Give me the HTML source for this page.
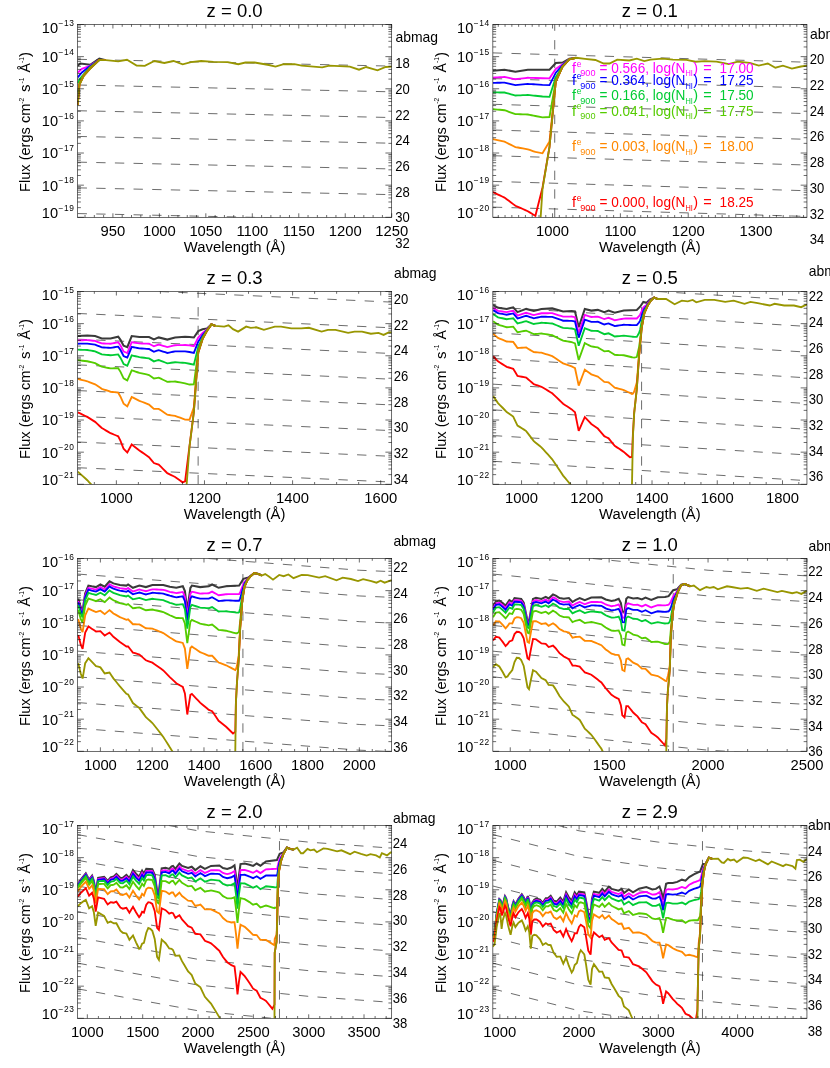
<!DOCTYPE html>
<html><head><meta charset="utf-8"><title>LyC flux vs redshift</title>
<style>html,body{margin:0;padding:0;background:#fff}svg{display:block;will-change:transform}text{font-family:"Liberation Sans",sans-serif;fill:#000}</style></head><body>
<svg width="830" height="1068" viewBox="0 0 830 1068">
<rect x="0" y="0" width="830" height="1068" fill="#ffffff"/>
<g id="p0">
<clipPath id="c0"><rect x="77.6" y="24.5" width="314.1" height="192.8"/></clipPath>
<g clip-path="url(#c0)" fill="none" stroke="#111111" stroke-width="0.62" stroke-dasharray="9.35 9.3">
<path d="M77.6 59.31 L391.7 66.11"/>
<path d="M77.6 85.01 L391.7 91.82"/>
<path d="M77.6 110.72 L391.7 117.53"/>
<path d="M77.6 136.43 L391.7 143.23"/>
<path d="M77.6 162.13 L391.7 168.94"/>
<path d="M77.6 187.84 L391.7 194.65"/>
<path d="M77.6 213.55 L391.7 220.35"/>
</g>
<g clip-path="url(#c0)" fill="none" stroke-width="1.85" stroke-linejoin="miter" stroke-miterlimit="3">
<path d="M77.7 65.8 L80.4 63.5 L90.1 64.7 L99.3 58.6 L105.9 60.2" stroke="#3a3a3a"/>
<path d="M77.7 72.8 L81.9 68.9 L89.2 66.1 L99.3 59.9 L105.9 60.2" stroke="#ff00ff"/>
<path d="M77.7 77.4 L81.9 72.5 L89.2 66.7 L99.3 59.9 L105.9 60.2" stroke="#0000ff"/>
<path d="M77.7 83.2 L80.1 78.6 L83.7 74.3 L89.8 67.3 L99.3 59.9 L105.9 60.2" stroke="#00cc33"/>
<path d="M77.7 92.6 L79.5 82.9 L83.7 75.3 L89.9 68 L99.3 59.9 L105.9 60.2" stroke="#55cc00"/>
<path d="M77.7 104.8 L79.5 84.1 L83.7 75.6 L90.1 68.3 L99.3 59.9 L105.9 60.2" stroke="#ff8800"/>
<path d="M77.7 105 L79.5 84.3 L83.7 75.8 L90.2 68.5 L99.3 59.9 L105.9 60.2" stroke="#ff0000"/>
<path d="M77.7 105.4 L79.5 84.5 L83.7 76 L90.3 68.7 L99.3 60 L105.9 60.2 L118.2 61.4 L127 59.8 L136.6 65.5 L144.8 65.9 L154.4 61 L164.3 63 L173.5 61 L182.7 64.3 L190.9 62.2 L201.1 61 L213.4 61.8 L227.8 62.2 L238.2 64.2 L245.4 62.5 L254.6 62.5 L268.9 65 L275.5 66.6 L283.7 64.2 L294.5 64.2 L301.7 65.6 L322.2 67.4 L329.3 65.6 L349.8 66.6 L359 69.7 L366.2 67 L377.5 70.3 L385.7 67 L391.8 66.6" stroke="#989600"/>
</g>
<g fill="none" stroke="#111111" stroke-width="0.62" stroke-linecap="butt">
<rect x="77.6" y="24.5" width="314.1" height="192.8"/>
<path d="M85.03 217.3 v-2.3 M85.03 24.5 v2.3 M94.33 217.3 v-2.3 M94.33 24.5 v2.3 M103.62 217.3 v-2.3 M103.62 24.5 v2.3 M112.91 217.3 v-4 M112.91 24.5 v4 M122.21 217.3 v-2.3 M122.21 24.5 v2.3 M131.5 217.3 v-2.3 M131.5 24.5 v2.3 M140.79 217.3 v-2.3 M140.79 24.5 v2.3 M150.08 217.3 v-2.3 M150.08 24.5 v2.3 M159.38 217.3 v-4 M159.38 24.5 v4 M168.67 217.3 v-2.3 M168.67 24.5 v2.3 M177.96 217.3 v-2.3 M177.96 24.5 v2.3 M187.26 217.3 v-2.3 M187.26 24.5 v2.3 M196.55 217.3 v-2.3 M196.55 24.5 v2.3 M205.84 217.3 v-4 M205.84 24.5 v4 M215.13 217.3 v-2.3 M215.13 24.5 v2.3 M224.43 217.3 v-2.3 M224.43 24.5 v2.3 M233.72 217.3 v-2.3 M233.72 24.5 v2.3 M243.01 217.3 v-2.3 M243.01 24.5 v2.3 M252.31 217.3 v-4 M252.31 24.5 v4 M261.6 217.3 v-2.3 M261.6 24.5 v2.3 M270.89 217.3 v-2.3 M270.89 24.5 v2.3 M280.19 217.3 v-2.3 M280.19 24.5 v2.3 M289.48 217.3 v-2.3 M289.48 24.5 v2.3 M298.77 217.3 v-4 M298.77 24.5 v4 M308.06 217.3 v-2.3 M308.06 24.5 v2.3 M317.36 217.3 v-2.3 M317.36 24.5 v2.3 M326.65 217.3 v-2.3 M326.65 24.5 v2.3 M335.94 217.3 v-2.3 M335.94 24.5 v2.3 M345.24 217.3 v-4 M345.24 24.5 v4 M354.53 217.3 v-2.3 M354.53 24.5 v2.3 M363.82 217.3 v-2.3 M363.82 24.5 v2.3 M373.11 217.3 v-2.3 M373.11 24.5 v2.3 M382.41 217.3 v-2.3 M382.41 24.5 v2.3 M391.7 217.3 v-4 M391.7 24.5 v4 M77.6 24.5 h6.3 M391.7 24.5 h-6.3 M77.6 46.96 h3.3 M391.7 46.96 h-3.3 M77.6 41.3 h3.3 M391.7 41.3 h-3.3 M77.6 37.29 h3.3 M391.7 37.29 h-3.3 M77.6 34.17 h3.3 M391.7 34.17 h-3.3 M77.6 31.63 h3.3 M391.7 31.63 h-3.3 M77.6 29.48 h3.3 M391.7 29.48 h-3.3 M77.6 27.61 h3.3 M391.7 27.61 h-3.3 M77.6 25.97 h3.3 M391.7 25.97 h-3.3 M77.6 56.63 h6.3 M391.7 56.63 h-6.3 M77.6 79.09 h3.3 M391.7 79.09 h-3.3 M77.6 73.44 h3.3 M391.7 73.44 h-3.3 M77.6 69.42 h3.3 M391.7 69.42 h-3.3 M77.6 66.31 h3.3 M391.7 66.31 h-3.3 M77.6 63.76 h3.3 M391.7 63.76 h-3.3 M77.6 61.61 h3.3 M391.7 61.61 h-3.3 M77.6 59.75 h3.3 M391.7 59.75 h-3.3 M77.6 58.1 h3.3 M391.7 58.1 h-3.3 M77.6 88.77 h6.3 M391.7 88.77 h-6.3 M77.6 111.23 h3.3 M391.7 111.23 h-3.3 M77.6 105.57 h3.3 M391.7 105.57 h-3.3 M77.6 101.55 h3.3 M391.7 101.55 h-3.3 M77.6 98.44 h3.3 M391.7 98.44 h-3.3 M77.6 95.9 h3.3 M391.7 95.9 h-3.3 M77.6 93.74 h3.3 M391.7 93.74 h-3.3 M77.6 91.88 h3.3 M391.7 91.88 h-3.3 M77.6 90.24 h3.3 M391.7 90.24 h-3.3 M77.6 120.9 h6.3 M391.7 120.9 h-6.3 M77.6 143.36 h3.3 M391.7 143.36 h-3.3 M77.6 137.7 h3.3 M391.7 137.7 h-3.3 M77.6 133.69 h3.3 M391.7 133.69 h-3.3 M77.6 130.57 h3.3 M391.7 130.57 h-3.3 M77.6 128.03 h3.3 M391.7 128.03 h-3.3 M77.6 125.88 h3.3 M391.7 125.88 h-3.3 M77.6 124.01 h3.3 M391.7 124.01 h-3.3 M77.6 122.37 h3.3 M391.7 122.37 h-3.3 M77.6 153.03 h6.3 M391.7 153.03 h-6.3 M77.6 175.49 h3.3 M391.7 175.49 h-3.3 M77.6 169.84 h3.3 M391.7 169.84 h-3.3 M77.6 165.82 h3.3 M391.7 165.82 h-3.3 M77.6 162.71 h3.3 M391.7 162.71 h-3.3 M77.6 160.16 h3.3 M391.7 160.16 h-3.3 M77.6 158.01 h3.3 M391.7 158.01 h-3.3 M77.6 156.15 h3.3 M391.7 156.15 h-3.3 M77.6 154.5 h3.3 M391.7 154.5 h-3.3 M77.6 185.17 h6.3 M391.7 185.17 h-6.3 M77.6 207.63 h3.3 M391.7 207.63 h-3.3 M77.6 201.97 h3.3 M391.7 201.97 h-3.3 M77.6 197.95 h3.3 M391.7 197.95 h-3.3 M77.6 194.84 h3.3 M391.7 194.84 h-3.3 M77.6 192.3 h3.3 M391.7 192.3 h-3.3 M77.6 190.14 h3.3 M391.7 190.14 h-3.3 M77.6 188.28 h3.3 M391.7 188.28 h-3.3 M77.6 186.64 h3.3 M391.7 186.64 h-3.3 M77.6 217.3 h6.3 M391.7 217.3 h-6.3"/>
</g>
<text x="234.65" y="17.3" font-size="18.5" text-anchor="middle">z = 0.0</text>
<text x="112.91" y="236.2" font-size="14.8" text-anchor="middle">950</text>
<text x="159.38" y="236.2" font-size="14.8" text-anchor="middle">1000</text>
<text x="205.84" y="236.2" font-size="14.8" text-anchor="middle">1050</text>
<text x="252.31" y="236.2" font-size="14.8" text-anchor="middle">1100</text>
<text x="298.77" y="236.2" font-size="14.8" text-anchor="middle">1150</text>
<text x="345.24" y="236.2" font-size="14.8" text-anchor="middle">1200</text>
<text x="391.7" y="236.2" font-size="14.8" text-anchor="middle">1250</text>
<text x="234.65" y="251.6" font-size="14.7" text-anchor="middle" textLength="101.6" lengthAdjust="spacingAndGlyphs">Wavelength (Å)</text>
<g transform="translate(30.4 191.9) rotate(-90)" font-size="15">
<text x="0" y="0" textLength="88.2" lengthAdjust="spacingAndGlyphs">Flux (ergs cm</text>
<text x="88.2" y="-6.3" font-size="6.6">-2</text>
<text x="99.9" y="0">s</text>
<text x="108.4" y="-6.3" font-size="6.6">-1</text>
<text x="119.3" y="0" textLength="9.4" lengthAdjust="spacingAndGlyphs">Å</text>
<text x="129.0" y="-6.3" font-size="6.6">-1</text>
<text x="134.9" y="0">)</text>
</g>
<text x="58" y="33.3" font-size="14.6" text-anchor="end">10</text>
<text x="58.6" y="26.1" font-size="8.4" textLength="15.2" lengthAdjust="spacing">−13</text>
<text x="58" y="62.03" font-size="14.6" text-anchor="end">10</text>
<text x="58.6" y="54.83" font-size="8.4" textLength="15.2" lengthAdjust="spacing">−14</text>
<text x="58" y="94.17" font-size="14.6" text-anchor="end">10</text>
<text x="58.6" y="86.97" font-size="8.4" textLength="15.2" lengthAdjust="spacing">−15</text>
<text x="58" y="126.3" font-size="14.6" text-anchor="end">10</text>
<text x="58.6" y="119.1" font-size="8.4" textLength="15.2" lengthAdjust="spacing">−16</text>
<text x="58" y="158.43" font-size="14.6" text-anchor="end">10</text>
<text x="58.6" y="151.23" font-size="8.4" textLength="15.2" lengthAdjust="spacing">−17</text>
<text x="58" y="190.57" font-size="14.6" text-anchor="end">10</text>
<text x="58.6" y="183.37" font-size="8.4" textLength="15.2" lengthAdjust="spacing">−18</text>
<text x="58" y="217.7" font-size="14.6" text-anchor="end">10</text>
<text x="58.6" y="210.5" font-size="8.4" textLength="15.2" lengthAdjust="spacing">−19</text>
<text x="395.52" y="42.4" font-size="15" textLength="42.6" lengthAdjust="spacingAndGlyphs">abmag</text>
<text x="395.32" y="68.1" font-size="14.2" textLength="14.5" lengthAdjust="spacingAndGlyphs">18</text>
<text x="395.32" y="93.81" font-size="14.2" textLength="14.5" lengthAdjust="spacingAndGlyphs">20</text>
<text x="395.32" y="119.52" font-size="14.2" textLength="14.5" lengthAdjust="spacingAndGlyphs">22</text>
<text x="395.32" y="145.22" font-size="14.2" textLength="14.5" lengthAdjust="spacingAndGlyphs">24</text>
<text x="395.32" y="170.93" font-size="14.2" textLength="14.5" lengthAdjust="spacingAndGlyphs">26</text>
<text x="395.32" y="196.64" font-size="14.2" textLength="14.5" lengthAdjust="spacingAndGlyphs">28</text>
<text x="395.32" y="222.34" font-size="14.2" textLength="14.5" lengthAdjust="spacingAndGlyphs">30</text>
<text x="395.32" y="248.05" font-size="14.2" textLength="14.5" lengthAdjust="spacingAndGlyphs">32</text>
</g>
<g id="p1">
<clipPath id="c1"><rect x="492.85" y="24.5" width="314.1" height="192.8"/></clipPath>
<g clip-path="url(#c1)" fill="none" stroke="#111111" stroke-width="0.62" stroke-dasharray="9.35 9.3">
<path d="M492.85 52.88 L806.95 62.21"/>
<path d="M492.85 78.59 L806.95 87.91"/>
<path d="M492.85 104.29 L806.95 113.62"/>
<path d="M492.85 130 L806.95 139.33"/>
<path d="M492.85 155.71 L806.95 165.03"/>
<path d="M492.85 181.41 L806.95 190.74"/>
<path d="M492.85 207.12 L806.95 216.45"/>
<path d="M554.72 217.3 L554.72 4.5"/>
</g>
<g clip-path="url(#c1)" fill="none" stroke-width="1.85" stroke-linejoin="miter" stroke-miterlimit="3">
<path d="M492.85 70.8 L504.5 69.8 L515.4 71.7 L527.8 69.8 L535.4 69.8 L542.5 69.8 L549.5 69.7 L555.8 63.1 L562.6 62.6 L569.3 58.8 L576.2 57.8" stroke="#3a3a3a" stroke-width="2.05"/>
<path d="M492.85 77.62 L495.18 77.49 L497.51 77.37 L499.84 77.24 L502.17 77.11 L504.5 76.99 L506.68 77.44 L508.86 77.89 L511.04 78.34 L513.22 78.79 L515.4 79.24 L517.88 78.94 L520.36 78.64 L522.84 78.35 L525.32 78.05 L527.8 77.75 L529.7 77.82 L531.6 77.88 L533.5 77.95 L535.4 78.01 L542.5 78.26 L549.5 78.36 L555.8 69.01 L562.6 64.38 L569.3 59.03 L576.2 57.8" stroke="#ff00ff"/>
<path d="M492.85 82.93 L495.18 82.86 L497.51 82.79 L499.84 82.72 L502.17 82.65 L504.5 82.58 L506.68 83.08 L508.86 83.59 L511.04 84.09 L513.22 84.6 L515.4 85.11 L517.88 84.87 L520.36 84.64 L522.84 84.4 L525.32 84.17 L527.8 83.94 L529.7 84.06 L531.6 84.17 L533.5 84.29 L535.4 84.41 L542.5 84.84 L549.5 85.08 L555.8 72.68 L562.6 65.24 L569.3 59.14 L576.2 57.8" stroke="#0000ff"/>
<path d="M492.85 92.38 L495.18 92.4 L497.51 92.43 L499.84 92.46 L502.17 92.49 L504.5 92.53 L506.68 93.13 L508.86 93.73 L511.04 94.33 L513.22 94.94 L515.4 95.54 L517.88 95.42 L520.36 95.3 L522.84 95.18 L525.32 95.06 L527.8 94.95 L529.7 95.15 L531.6 95.36 L533.5 95.57 L535.4 95.77 L542.5 96.54 L549.5 96.91 L555.8 77.16 L562.6 66.08 L569.3 59.23 L576.2 57.8" stroke="#00cc33"/>
<path d="M492.85 109.17 L495.18 109.37 L497.51 109.58 L499.84 109.79 L502.17 110 L504.5 110.22 L506.68 110.99 L508.86 111.76 L511.04 112.54 L513.22 113.31 L515.4 114.1 L517.88 114.17 L520.36 114.26 L522.84 114.34 L525.32 114.43 L527.8 114.52 L529.7 114.88 L531.6 115.25 L533.5 115.62 L535.4 115.99 L542.5 117.3 L549.5 117.01 L555.8 80.48 L562.6 66.57 L569.3 59.29 L576.2 57.8" stroke="#55cc00"/>
<path d="M492.85 139.03 L495.18 139.55 L497.51 140.07 L499.84 140.6 L502.17 141.13 L504.5 141.67 L506.68 142.75 L508.86 143.83 L511.04 144.91 L513.22 146 L515.4 147.09 L517.88 147.53 L520.36 147.97 L522.84 148.42 L525.32 148.87 L527.8 149.33 L529.7 149.97 L531.6 150.62 L533.5 151.28 L535.4 151.93 L542.5 153.31 L549.5 141.41 L555.8 81.44 L562.6 66.69 L569.3 59.3 L576.2 57.8" stroke="#ff8800"/>
<path d="M492.85 192.13 L495.18 193.21 L497.51 194.29 L499.84 195.39 L502.17 196.49 L504.5 197.61 L506.68 199.22 L508.86 200.85 L511.04 202.48 L513.22 204.12 L515.4 205.77 L517.88 206.84 L520.36 207.92 L522.84 209.01 L525.32 210.11 L527.8 211.22 L529.7 212.37 L531.6 213.53 L533.5 214.69 L535.4 215.82 L542.5 187.77 L549.5 146.95 L555.8 81.5 L562.6 66.7 L569.3 59.3 L576.2 57.8" stroke="#ff0000"/>
<path d="M492.85 286.55 L495.18 288.63 L497.51 290.72 L499.84 292.82 L502.17 294.94 L504.5 297.07 L506.68 299.65 L508.86 302.25 L511.04 304.85 L513.22 307.47 L515.4 310.11 L517.88 312.31 L520.36 314.52 L522.84 316.76 L525.32 319.01 L527.8 321.29 L529.7 323.33 L531.6 325.39 L533.5 327.45 L535.4 297.52 L542.5 189.2 L549.5 147 L555.8 81.5 L562.6 66.7 L569.3 59.3 L576.2 57.8 L585 58.9 L595.4 60 L603.7 63.5 L609.5 63.5 L617.2 59.6 L629.3 60.5 L636.8 58.7 L644.3 61.1 L650.4 59.6 L662.4 58.7 L673 59.6 L686.5 59.9 L695.5 61.7 L704.6 61.1 L716.6 61.7 L728.7 64.1 L737.7 61.7 L749.8 62.9 L758.8 65.6 L767.8 63.5 L775.4 67.7 L782.9 65.6 L791.9 68.6 L801 66.5 L807 65.6" stroke="#989600"/>
</g>
<g fill="none" stroke="#111111" stroke-width="0.62" stroke-linecap="butt">
<rect x="492.85" y="24.5" width="314.1" height="192.8"/>
<path d="M498.28 217.3 v-2.3 M498.28 24.5 v2.3 M505.06 217.3 v-2.3 M505.06 24.5 v2.3 M511.85 217.3 v-2.3 M511.85 24.5 v2.3 M518.63 217.3 v-2.3 M518.63 24.5 v2.3 M525.41 217.3 v-2.3 M525.41 24.5 v2.3 M532.2 217.3 v-2.3 M532.2 24.5 v2.3 M538.98 217.3 v-2.3 M538.98 24.5 v2.3 M545.77 217.3 v-2.3 M545.77 24.5 v2.3 M552.55 217.3 v-4 M552.55 24.5 v4 M559.33 217.3 v-2.3 M559.33 24.5 v2.3 M566.12 217.3 v-2.3 M566.12 24.5 v2.3 M572.9 217.3 v-2.3 M572.9 24.5 v2.3 M579.69 217.3 v-2.3 M579.69 24.5 v2.3 M586.47 217.3 v-2.3 M586.47 24.5 v2.3 M593.25 217.3 v-2.3 M593.25 24.5 v2.3 M600.04 217.3 v-2.3 M600.04 24.5 v2.3 M606.82 217.3 v-2.3 M606.82 24.5 v2.3 M613.61 217.3 v-2.3 M613.61 24.5 v2.3 M620.39 217.3 v-4 M620.39 24.5 v4 M627.17 217.3 v-2.3 M627.17 24.5 v2.3 M633.96 217.3 v-2.3 M633.96 24.5 v2.3 M640.74 217.3 v-2.3 M640.74 24.5 v2.3 M647.53 217.3 v-2.3 M647.53 24.5 v2.3 M654.31 217.3 v-2.3 M654.31 24.5 v2.3 M661.09 217.3 v-2.3 M661.09 24.5 v2.3 M667.88 217.3 v-2.3 M667.88 24.5 v2.3 M674.66 217.3 v-2.3 M674.66 24.5 v2.3 M681.45 217.3 v-2.3 M681.45 24.5 v2.3 M688.23 217.3 v-4 M688.23 24.5 v4 M695.01 217.3 v-2.3 M695.01 24.5 v2.3 M701.8 217.3 v-2.3 M701.8 24.5 v2.3 M708.58 217.3 v-2.3 M708.58 24.5 v2.3 M715.37 217.3 v-2.3 M715.37 24.5 v2.3 M722.15 217.3 v-2.3 M722.15 24.5 v2.3 M728.93 217.3 v-2.3 M728.93 24.5 v2.3 M735.72 217.3 v-2.3 M735.72 24.5 v2.3 M742.5 217.3 v-2.3 M742.5 24.5 v2.3 M749.29 217.3 v-2.3 M749.29 24.5 v2.3 M756.07 217.3 v-4 M756.07 24.5 v4 M762.85 217.3 v-2.3 M762.85 24.5 v2.3 M769.64 217.3 v-2.3 M769.64 24.5 v2.3 M776.42 217.3 v-2.3 M776.42 24.5 v2.3 M783.21 217.3 v-2.3 M783.21 24.5 v2.3 M789.99 217.3 v-2.3 M789.99 24.5 v2.3 M796.77 217.3 v-2.3 M796.77 24.5 v2.3 M803.56 217.3 v-2.3 M803.56 24.5 v2.3 M492.85 24.5 h6.3 M806.95 24.5 h-6.3 M492.85 46.96 h3.3 M806.95 46.96 h-3.3 M492.85 41.3 h3.3 M806.95 41.3 h-3.3 M492.85 37.29 h3.3 M806.95 37.29 h-3.3 M492.85 34.17 h3.3 M806.95 34.17 h-3.3 M492.85 31.63 h3.3 M806.95 31.63 h-3.3 M492.85 29.48 h3.3 M806.95 29.48 h-3.3 M492.85 27.61 h3.3 M806.95 27.61 h-3.3 M492.85 25.97 h3.3 M806.95 25.97 h-3.3 M492.85 56.63 h6.3 M806.95 56.63 h-6.3 M492.85 79.09 h3.3 M806.95 79.09 h-3.3 M492.85 73.44 h3.3 M806.95 73.44 h-3.3 M492.85 69.42 h3.3 M806.95 69.42 h-3.3 M492.85 66.31 h3.3 M806.95 66.31 h-3.3 M492.85 63.76 h3.3 M806.95 63.76 h-3.3 M492.85 61.61 h3.3 M806.95 61.61 h-3.3 M492.85 59.75 h3.3 M806.95 59.75 h-3.3 M492.85 58.1 h3.3 M806.95 58.1 h-3.3 M492.85 88.77 h6.3 M806.95 88.77 h-6.3 M492.85 111.23 h3.3 M806.95 111.23 h-3.3 M492.85 105.57 h3.3 M806.95 105.57 h-3.3 M492.85 101.55 h3.3 M806.95 101.55 h-3.3 M492.85 98.44 h3.3 M806.95 98.44 h-3.3 M492.85 95.9 h3.3 M806.95 95.9 h-3.3 M492.85 93.74 h3.3 M806.95 93.74 h-3.3 M492.85 91.88 h3.3 M806.95 91.88 h-3.3 M492.85 90.24 h3.3 M806.95 90.24 h-3.3 M492.85 120.9 h6.3 M806.95 120.9 h-6.3 M492.85 143.36 h3.3 M806.95 143.36 h-3.3 M492.85 137.7 h3.3 M806.95 137.7 h-3.3 M492.85 133.69 h3.3 M806.95 133.69 h-3.3 M492.85 130.57 h3.3 M806.95 130.57 h-3.3 M492.85 128.03 h3.3 M806.95 128.03 h-3.3 M492.85 125.88 h3.3 M806.95 125.88 h-3.3 M492.85 124.01 h3.3 M806.95 124.01 h-3.3 M492.85 122.37 h3.3 M806.95 122.37 h-3.3 M492.85 153.03 h6.3 M806.95 153.03 h-6.3 M492.85 175.49 h3.3 M806.95 175.49 h-3.3 M492.85 169.84 h3.3 M806.95 169.84 h-3.3 M492.85 165.82 h3.3 M806.95 165.82 h-3.3 M492.85 162.71 h3.3 M806.95 162.71 h-3.3 M492.85 160.16 h3.3 M806.95 160.16 h-3.3 M492.85 158.01 h3.3 M806.95 158.01 h-3.3 M492.85 156.15 h3.3 M806.95 156.15 h-3.3 M492.85 154.5 h3.3 M806.95 154.5 h-3.3 M492.85 185.17 h6.3 M806.95 185.17 h-6.3 M492.85 207.63 h3.3 M806.95 207.63 h-3.3 M492.85 201.97 h3.3 M806.95 201.97 h-3.3 M492.85 197.95 h3.3 M806.95 197.95 h-3.3 M492.85 194.84 h3.3 M806.95 194.84 h-3.3 M492.85 192.3 h3.3 M806.95 192.3 h-3.3 M492.85 190.14 h3.3 M806.95 190.14 h-3.3 M492.85 188.28 h3.3 M806.95 188.28 h-3.3 M492.85 186.64 h3.3 M806.95 186.64 h-3.3 M492.85 217.3 h6.3 M806.95 217.3 h-6.3"/>
</g>
<text x="649.9" y="17.3" font-size="18.5" text-anchor="middle">z = 0.1</text>
<text x="552.55" y="236.2" font-size="14.8" text-anchor="middle">1000</text>
<text x="620.39" y="236.2" font-size="14.8" text-anchor="middle">1100</text>
<text x="688.23" y="236.2" font-size="14.8" text-anchor="middle">1200</text>
<text x="756.07" y="236.2" font-size="14.8" text-anchor="middle">1300</text>
<text x="649.9" y="251.6" font-size="14.7" text-anchor="middle" textLength="101.6" lengthAdjust="spacingAndGlyphs">Wavelength (Å)</text>
<g transform="translate(445.65 191.9) rotate(-90)" font-size="15">
<text x="0" y="0" textLength="88.2" lengthAdjust="spacingAndGlyphs">Flux (ergs cm</text>
<text x="88.2" y="-6.3" font-size="6.6">-2</text>
<text x="99.9" y="0">s</text>
<text x="108.4" y="-6.3" font-size="6.6">-1</text>
<text x="119.3" y="0" textLength="9.4" lengthAdjust="spacingAndGlyphs">Å</text>
<text x="129.0" y="-6.3" font-size="6.6">-1</text>
<text x="134.9" y="0">)</text>
</g>
<text x="473.25" y="33.3" font-size="14.6" text-anchor="end">10</text>
<text x="473.85" y="26.1" font-size="8.4" textLength="15.2" lengthAdjust="spacing">−14</text>
<text x="473.25" y="62.03" font-size="14.6" text-anchor="end">10</text>
<text x="473.85" y="54.83" font-size="8.4" textLength="15.2" lengthAdjust="spacing">−15</text>
<text x="473.25" y="94.17" font-size="14.6" text-anchor="end">10</text>
<text x="473.85" y="86.97" font-size="8.4" textLength="15.2" lengthAdjust="spacing">−16</text>
<text x="473.25" y="126.3" font-size="14.6" text-anchor="end">10</text>
<text x="473.85" y="119.1" font-size="8.4" textLength="15.2" lengthAdjust="spacing">−17</text>
<text x="473.25" y="158.43" font-size="14.6" text-anchor="end">10</text>
<text x="473.85" y="151.23" font-size="8.4" textLength="15.2" lengthAdjust="spacing">−18</text>
<text x="473.25" y="190.57" font-size="14.6" text-anchor="end">10</text>
<text x="473.85" y="183.37" font-size="8.4" textLength="15.2" lengthAdjust="spacing">−19</text>
<text x="473.25" y="217.7" font-size="14.6" text-anchor="end">10</text>
<text x="473.85" y="210.5" font-size="8.4" textLength="15.2" lengthAdjust="spacing">−20</text>
<text x="809.97" y="38.63" font-size="15" textLength="42.6" lengthAdjust="spacingAndGlyphs">abmag</text>
<text x="809.77" y="64.34" font-size="14.2" textLength="14.5" lengthAdjust="spacingAndGlyphs">20</text>
<text x="809.77" y="90.05" font-size="14.2" textLength="14.5" lengthAdjust="spacingAndGlyphs">22</text>
<text x="809.77" y="115.75" font-size="14.2" textLength="14.5" lengthAdjust="spacingAndGlyphs">24</text>
<text x="809.77" y="141.46" font-size="14.2" textLength="14.5" lengthAdjust="spacingAndGlyphs">26</text>
<text x="809.77" y="167.17" font-size="14.2" textLength="14.5" lengthAdjust="spacingAndGlyphs">28</text>
<text x="809.77" y="192.87" font-size="14.2" textLength="14.5" lengthAdjust="spacingAndGlyphs">30</text>
<text x="809.77" y="218.58" font-size="14.2" textLength="14.5" lengthAdjust="spacingAndGlyphs">32</text>
<text x="809.77" y="244.29" font-size="14.2" textLength="14.5" lengthAdjust="spacingAndGlyphs">34</text>
</g>
<g id="p2">
<clipPath id="c2"><rect x="77.6" y="291.5" width="314.1" height="192.8"/></clipPath>
<g clip-path="url(#c2)" fill="none" stroke="#111111" stroke-width="0.62" stroke-dasharray="9.35 9.3">
<path d="M159.7 291.5 L391.7 302.11"/>
<path d="M77.6 313.45 L391.7 327.82"/>
<path d="M77.6 339.16 L391.7 353.52"/>
<path d="M77.6 364.87 L391.7 379.23"/>
<path d="M77.6 390.57 L391.7 404.94"/>
<path d="M77.6 416.28 L391.7 430.64"/>
<path d="M77.6 441.99 L391.7 456.35"/>
<path d="M77.6 467.69 L391.7 482.06"/>
<path d="M198.13 484.3 L198.13 271.5"/>
</g>
<g clip-path="url(#c2)" fill="none" stroke-width="1.85" stroke-linejoin="miter" stroke-miterlimit="3">
<path d="M77.7 336.1 L87.3 335.5 L95.1 336.1 L101.8 338.4 L110.5 338.4 L118.2 336.7 L120.5 339.9 L123.6 345.7 L127.3 347.1 L131.7 336.1 L139.4 337 L149 337 L153.9 339.4 L158.7 337.4 L167.3 339.6 L175.1 337.4 L185.08 336.7 L189.47 336.9 L193.86 337.5 L198.25 331.1 L202.6 329.3 L207 328.4 L211.4 324.4 L215.3 325.8" stroke="#3a3a3a" stroke-width="2.05"/>
<path d="M77.7 340.38 L80.1 340.31 L82.5 340.23 L84.9 340.15 L87.3 340.08 L89.25 340.29 L91.2 340.5 L93.15 340.71 L95.1 340.92 L97.33 341.76 L99.57 342.6 L101.8 343.44 L103.97 343.51 L106.15 343.59 L108.33 343.66 L110.5 343.73 L112.42 343.37 L114.35 343.02 L116.28 342.66 L118.2 342.3 L120.5 345.58 L122.05 348.54 L123.6 351.49 L125.45 352.26 L127.3 353.03 L129.5 347.61 L131.7 342.19 L133.62 342.49 L135.55 342.78 L137.47 343.08 L139.4 343.38 L141.8 343.47 L144.2 343.57 L146.6 343.66 L149 343.76 L151.45 345.05 L153.9 346.35 L156.3 345.45 L158.7 344.55 L160.85 345.19 L163 345.83 L165.15 346.47 L167.3 347.11 L169.25 346.64 L171.2 346.18 L173.15 345.71 L175.1 345.25 L177.59 345.18 L180.09 345.12 L182.59 345.06 L185.08 344.99 L189.47 345.39 L193.86 346.14 L198.25 337.54 L202.6 333.03 L207 329.44 L211.4 324.4 L215.3 325.8" stroke="#ff00ff"/>
<path d="M77.7 343.72 L80.1 343.7 L82.5 343.68 L84.9 343.66 L87.3 343.64 L89.25 343.9 L91.2 344.15 L93.15 344.41 L95.1 344.68 L97.33 345.57 L99.57 346.47 L101.8 347.36 L103.97 347.49 L106.15 347.62 L108.33 347.75 L110.5 347.88 L112.42 347.58 L114.35 347.27 L116.28 346.96 L118.2 346.66 L120.5 350 L122.05 353 L123.6 356 L125.45 356.82 L127.3 357.64 L129.5 352.28 L131.7 346.93 L133.62 347.28 L135.55 347.64 L137.47 347.99 L139.4 348.35 L141.8 348.51 L144.2 348.68 L146.6 348.85 L149 349.02 L151.45 350.39 L153.9 351.77 L156.3 350.94 L158.7 350.12 L160.85 350.82 L163 351.53 L165.15 352.24 L167.3 352.96 L169.25 352.56 L171.2 352.15 L173.15 351.76 L175.1 351.36 L177.59 351.38 L180.09 351.4 L182.59 351.42 L185.08 351.45 L189.47 352 L193.86 352.83 L198.25 341.69 L202.6 335.04 L207 329.92 L211.4 324.4 L215.3 325.8" stroke="#0000ff"/>
<path d="M77.7 349.65 L80.1 349.73 L82.5 349.81 L84.9 349.89 L87.3 349.97 L89.25 350.31 L91.2 350.66 L93.15 351 L95.1 351.35 L97.33 352.34 L99.57 353.34 L101.8 354.34 L103.97 354.57 L106.15 354.8 L108.33 355.03 L110.5 355.26 L112.42 355.05 L114.35 354.83 L116.28 354.62 L118.2 354.41 L120.5 357.87 L122.05 360.94 L123.6 364.02 L125.45 364.93 L127.3 365.84 L129.5 360.6 L131.7 355.36 L133.62 355.81 L135.55 356.27 L137.47 356.72 L139.4 357.18 L141.8 357.47 L144.2 357.77 L146.6 358.07 L149 358.37 L151.45 359.88 L153.9 361.39 L156.3 360.7 L158.7 360.01 L160.85 360.84 L163 361.68 L165.15 362.51 L167.3 363.35 L169.25 363.07 L171.2 362.78 L173.15 362.5 L175.1 362.22 L177.59 362.39 L180.09 362.57 L182.59 362.75 L185.08 362.93 L189.47 363.73 L193.86 364.6 L198.25 346.99 L202.6 337.17 L207 330.37 L211.4 324.4 L215.3 325.8" stroke="#00cc33"/>
<path d="M77.7 360.19 L80.1 360.45 L82.5 360.71 L84.9 360.97 L87.3 361.23 L89.25 361.73 L91.2 362.22 L93.15 362.72 L95.1 363.22 L97.33 364.39 L99.57 365.56 L101.8 366.74 L103.97 367.15 L106.15 367.56 L108.33 367.97 L110.5 368.39 L112.42 368.33 L114.35 368.28 L116.28 368.24 L118.2 368.19 L120.5 371.85 L122.05 375.06 L123.6 378.28 L125.45 379.35 L127.3 380.43 L129.5 375.39 L131.7 370.35 L133.62 370.98 L135.55 371.61 L137.47 372.25 L139.4 372.89 L141.8 373.41 L144.2 373.93 L146.6 374.46 L149 375 L151.45 376.75 L153.9 378.5 L156.3 378.05 L158.7 377.61 L160.85 378.66 L163 379.72 L165.15 380.77 L167.3 381.84 L169.25 381.76 L171.2 381.68 L173.15 381.61 L175.1 381.53 L177.59 381.98 L180.09 382.43 L182.59 382.88 L185.08 383.34 L189.47 384.52 L193.86 384.4 L198.25 351.16 L202.6 338.52 L207 330.63 L211.4 324.4 L215.3 325.8" stroke="#55cc00"/>
<path d="M77.7 378.95 L80.1 379.51 L82.5 380.09 L84.9 380.67 L87.3 381.26 L89.25 382.02 L91.2 382.78 L93.15 383.55 L95.1 384.32 L97.33 385.81 L99.57 387.3 L101.8 388.8 L103.97 389.52 L106.15 390.25 L108.33 390.99 L110.5 391.73 L112.42 391.96 L114.35 392.2 L116.28 392.45 L118.2 392.7 L120.5 396.72 L122.05 400.17 L123.6 403.63 L125.45 405 L127.3 406.38 L129.5 401.69 L131.7 397 L133.62 397.95 L135.55 398.9 L137.47 399.85 L139.4 400.81 L141.8 401.74 L144.2 402.67 L146.6 403.62 L149 404.57 L151.45 406.75 L153.9 408.94 L156.3 408.92 L158.7 408.9 L160.85 410.34 L163 411.79 L165.15 413.25 L167.3 414.71 L169.25 415 L171.2 415.29 L173.15 415.58 L175.1 415.88 L177.59 416.81 L180.09 417.74 L182.59 418.68 L185.08 419.61 L189.47 419.72 L193.86 407.24 L198.25 352.41 L202.6 338.88 L207 330.7 L211.4 324.4 L215.3 325.8" stroke="#ff8800"/>
<path d="M77.7 412.29 L80.1 413.42 L82.5 414.56 L84.9 415.71 L87.3 416.88 L89.25 418.11 L91.2 419.35 L93.15 420.6 L95.1 421.85 L97.33 423.9 L99.57 425.96 L101.8 428.03 L103.97 429.31 L106.15 430.61 L108.33 431.91 L110.5 433.23 L112.42 433.98 L114.35 434.74 L116.28 435.51 L118.2 436.29 L120.5 440.94 L122.05 444.83 L123.6 448.72 L125.45 450.61 L127.3 452.51 L129.5 448.45 L131.7 444.4 L133.62 445.91 L135.55 447.42 L137.47 448.94 L139.4 450.48 L141.8 452.13 L144.2 453.79 L146.6 455.46 L149 457.16 L151.45 460.1 L153.9 463.06 L156.3 463.8 L158.7 464.55 L160.85 466.69 L163 468.84 L165.15 471 L167.3 473.17 L169.25 474.1 L171.2 475.05 L173.15 476 L175.1 476.97 L177.59 478.74 L180.09 480.54 L182.59 482.35 L185.08 481.35 L189.47 446.28 L193.86 411.96 L198.25 352.5 L202.6 338.9 L207 330.7 L211.4 324.4 L215.3 325.8" stroke="#ff0000"/>
<path d="M77.7 471.59 L80.1 473.71 L82.5 475.85 L84.9 478.02 L87.3 480.21 L89.25 482.28 L91.2 484.37 L93.15 486.47 L95.1 488.59 L97.33 491.64 L99.57 494.7 L101.8 497.79 L103.97 500.07 L106.15 502.37 L108.33 504.69 L110.5 507.03 L112.42 508.7 L114.35 510.38 L116.28 512.08 L118.2 513.8 L120.5 519.58 L122.05 524.23 L123.6 528.89 L125.45 531.71 L127.3 534.55 L129.5 531.61 L131.7 528.69 L133.62 531.19 L135.55 533.71 L137.47 536.24 L139.4 538.8 L141.8 541.72 L144.2 544.68 L146.6 547.66 L149 550.67 L151.45 554.97 L153.9 559.3 L156.3 561.39 L158.7 563.51 L160.85 566.88 L163 570.27 L165.15 573.69 L167.3 577.12 L169.25 579.21 L171.2 581.32 L173.15 583.44 L175.1 585.59 L177.59 588.89 L180.09 592.22 L182.59 595.58 L185.08 504.98 L189.47 447 L193.86 412 L198.25 352.5 L202.6 338.9 L207 330.7 L211.4 324.4 L215.3 325.8 L224.2 326.6 L228.5 325.3 L233 329.1 L238.1 331.6 L246.2 326.6 L250.7 327.8 L256.3 327.3 L263.9 329.9 L274.8 326.6 L281.1 326.6 L291.2 328.3 L301.3 328.3 L308.9 327.8 L321.6 331.6 L327.9 329.9 L335.5 329.9 L348.1 332.9 L354.5 331.6 L362 331.6 L370.9 333.7 L378.5 332.9 L383.6 334.9 L388.6 332.4 L391.7 332.4" stroke="#989600"/>
</g>
<g fill="none" stroke="#111111" stroke-width="0.62" stroke-linecap="butt">
<rect x="77.6" y="291.5" width="314.1" height="192.8"/>
<path d="M94.34 484.3 v-2.3 M94.34 291.5 v2.3 M116.37 484.3 v-4 M116.37 291.5 v4 M138.39 484.3 v-2.3 M138.39 291.5 v2.3 M160.42 484.3 v-2.3 M160.42 291.5 v2.3 M182.45 484.3 v-2.3 M182.45 291.5 v2.3 M204.47 484.3 v-4 M204.47 291.5 v4 M226.5 484.3 v-2.3 M226.5 291.5 v2.3 M248.53 484.3 v-2.3 M248.53 291.5 v2.3 M270.55 484.3 v-2.3 M270.55 291.5 v2.3 M292.58 484.3 v-4 M292.58 291.5 v4 M314.61 484.3 v-2.3 M314.61 291.5 v2.3 M336.63 484.3 v-2.3 M336.63 291.5 v2.3 M358.66 484.3 v-2.3 M358.66 291.5 v2.3 M380.69 484.3 v-4 M380.69 291.5 v4 M77.6 291.5 h6.3 M391.7 291.5 h-6.3 M77.6 313.96 h3.3 M391.7 313.96 h-3.3 M77.6 308.3 h3.3 M391.7 308.3 h-3.3 M77.6 304.29 h3.3 M391.7 304.29 h-3.3 M77.6 301.17 h3.3 M391.7 301.17 h-3.3 M77.6 298.63 h3.3 M391.7 298.63 h-3.3 M77.6 296.48 h3.3 M391.7 296.48 h-3.3 M77.6 294.61 h3.3 M391.7 294.61 h-3.3 M77.6 292.97 h3.3 M391.7 292.97 h-3.3 M77.6 323.63 h6.3 M391.7 323.63 h-6.3 M77.6 346.09 h3.3 M391.7 346.09 h-3.3 M77.6 340.44 h3.3 M391.7 340.44 h-3.3 M77.6 336.42 h3.3 M391.7 336.42 h-3.3 M77.6 333.31 h3.3 M391.7 333.31 h-3.3 M77.6 330.76 h3.3 M391.7 330.76 h-3.3 M77.6 328.61 h3.3 M391.7 328.61 h-3.3 M77.6 326.75 h3.3 M391.7 326.75 h-3.3 M77.6 325.1 h3.3 M391.7 325.1 h-3.3 M77.6 355.77 h6.3 M391.7 355.77 h-6.3 M77.6 378.23 h3.3 M391.7 378.23 h-3.3 M77.6 372.57 h3.3 M391.7 372.57 h-3.3 M77.6 368.55 h3.3 M391.7 368.55 h-3.3 M77.6 365.44 h3.3 M391.7 365.44 h-3.3 M77.6 362.9 h3.3 M391.7 362.9 h-3.3 M77.6 360.74 h3.3 M391.7 360.74 h-3.3 M77.6 358.88 h3.3 M391.7 358.88 h-3.3 M77.6 357.24 h3.3 M391.7 357.24 h-3.3 M77.6 387.9 h6.3 M391.7 387.9 h-6.3 M77.6 410.36 h3.3 M391.7 410.36 h-3.3 M77.6 404.7 h3.3 M391.7 404.7 h-3.3 M77.6 400.69 h3.3 M391.7 400.69 h-3.3 M77.6 397.57 h3.3 M391.7 397.57 h-3.3 M77.6 395.03 h3.3 M391.7 395.03 h-3.3 M77.6 392.88 h3.3 M391.7 392.88 h-3.3 M77.6 391.01 h3.3 M391.7 391.01 h-3.3 M77.6 389.37 h3.3 M391.7 389.37 h-3.3 M77.6 420.03 h6.3 M391.7 420.03 h-6.3 M77.6 442.49 h3.3 M391.7 442.49 h-3.3 M77.6 436.84 h3.3 M391.7 436.84 h-3.3 M77.6 432.82 h3.3 M391.7 432.82 h-3.3 M77.6 429.71 h3.3 M391.7 429.71 h-3.3 M77.6 427.16 h3.3 M391.7 427.16 h-3.3 M77.6 425.01 h3.3 M391.7 425.01 h-3.3 M77.6 423.15 h3.3 M391.7 423.15 h-3.3 M77.6 421.5 h3.3 M391.7 421.5 h-3.3 M77.6 452.17 h6.3 M391.7 452.17 h-6.3 M77.6 474.63 h3.3 M391.7 474.63 h-3.3 M77.6 468.97 h3.3 M391.7 468.97 h-3.3 M77.6 464.95 h3.3 M391.7 464.95 h-3.3 M77.6 461.84 h3.3 M391.7 461.84 h-3.3 M77.6 459.3 h3.3 M391.7 459.3 h-3.3 M77.6 457.14 h3.3 M391.7 457.14 h-3.3 M77.6 455.28 h3.3 M391.7 455.28 h-3.3 M77.6 453.64 h3.3 M391.7 453.64 h-3.3 M77.6 484.3 h6.3 M391.7 484.3 h-6.3"/>
</g>
<text x="234.65" y="284.3" font-size="18.5" text-anchor="middle">z = 0.3</text>
<text x="116.37" y="503.2" font-size="14.8" text-anchor="middle">1000</text>
<text x="204.47" y="503.2" font-size="14.8" text-anchor="middle">1200</text>
<text x="292.58" y="503.2" font-size="14.8" text-anchor="middle">1400</text>
<text x="380.69" y="503.2" font-size="14.8" text-anchor="middle">1600</text>
<text x="234.65" y="518.6" font-size="14.7" text-anchor="middle" textLength="101.6" lengthAdjust="spacingAndGlyphs">Wavelength (Å)</text>
<g transform="translate(30.4 458.9) rotate(-90)" font-size="15">
<text x="0" y="0" textLength="88.2" lengthAdjust="spacingAndGlyphs">Flux (ergs cm</text>
<text x="88.2" y="-6.3" font-size="6.6">-2</text>
<text x="99.9" y="0">s</text>
<text x="108.4" y="-6.3" font-size="6.6">-1</text>
<text x="119.3" y="0" textLength="9.4" lengthAdjust="spacingAndGlyphs">Å</text>
<text x="129.0" y="-6.3" font-size="6.6">-1</text>
<text x="134.9" y="0">)</text>
</g>
<text x="58" y="300.3" font-size="14.6" text-anchor="end">10</text>
<text x="58.6" y="293.1" font-size="8.4" textLength="15.2" lengthAdjust="spacing">−15</text>
<text x="58" y="329.03" font-size="14.6" text-anchor="end">10</text>
<text x="58.6" y="321.83" font-size="8.4" textLength="15.2" lengthAdjust="spacing">−16</text>
<text x="58" y="361.17" font-size="14.6" text-anchor="end">10</text>
<text x="58.6" y="353.97" font-size="8.4" textLength="15.2" lengthAdjust="spacing">−17</text>
<text x="58" y="393.3" font-size="14.6" text-anchor="end">10</text>
<text x="58.6" y="386.1" font-size="8.4" textLength="15.2" lengthAdjust="spacing">−18</text>
<text x="58" y="425.43" font-size="14.6" text-anchor="end">10</text>
<text x="58.6" y="418.23" font-size="8.4" textLength="15.2" lengthAdjust="spacing">−19</text>
<text x="58" y="457.57" font-size="14.6" text-anchor="end">10</text>
<text x="58.6" y="450.37" font-size="8.4" textLength="15.2" lengthAdjust="spacing">−20</text>
<text x="58" y="484.7" font-size="14.6" text-anchor="end">10</text>
<text x="58.6" y="477.5" font-size="8.4" textLength="15.2" lengthAdjust="spacing">−21</text>
<text x="393.96" y="278.16" font-size="15" textLength="42.6" lengthAdjust="spacingAndGlyphs">abmag</text>
<text x="393.76" y="303.87" font-size="14.2" textLength="14.5" lengthAdjust="spacingAndGlyphs">20</text>
<text x="393.76" y="329.57" font-size="14.2" textLength="14.5" lengthAdjust="spacingAndGlyphs">22</text>
<text x="393.76" y="355.28" font-size="14.2" textLength="14.5" lengthAdjust="spacingAndGlyphs">24</text>
<text x="393.76" y="380.99" font-size="14.2" textLength="14.5" lengthAdjust="spacingAndGlyphs">26</text>
<text x="393.76" y="406.69" font-size="14.2" textLength="14.5" lengthAdjust="spacingAndGlyphs">28</text>
<text x="393.76" y="432.4" font-size="14.2" textLength="14.5" lengthAdjust="spacingAndGlyphs">30</text>
<text x="393.76" y="458.11" font-size="14.2" textLength="14.5" lengthAdjust="spacingAndGlyphs">32</text>
<text x="393.76" y="483.81" font-size="14.2" textLength="14.5" lengthAdjust="spacingAndGlyphs">34</text>
</g>
<g id="p3">
<clipPath id="c3"><rect x="492.85" y="291.5" width="314.1" height="192.8"/></clipPath>
<g clip-path="url(#c3)" fill="none" stroke="#111111" stroke-width="0.62" stroke-dasharray="9.35 9.3">
<path d="M657.69 291.5 L806.95 300.72"/>
<path d="M492.85 307.03 L806.95 326.42"/>
<path d="M492.85 332.73 L806.95 352.13"/>
<path d="M492.85 358.44 L806.95 377.84"/>
<path d="M492.85 384.15 L806.95 403.54"/>
<path d="M492.85 409.85 L806.95 429.25"/>
<path d="M492.85 435.56 L806.95 454.96"/>
<path d="M492.85 461.27 L806.95 480.66"/>
<path d="M641.58 484.3 L641.58 271.5"/>
</g>
<g clip-path="url(#c3)" fill="none" stroke-width="1.85" stroke-linejoin="miter" stroke-miterlimit="3">
<path d="M493.2 305 L498 307.8 L506.7 308.9 L513.2 307.3 L517.5 312.1 L526.2 308.9 L533.8 311 L541.4 308.9 L552.2 308.4 L563.1 311.5 L571.7 311 L575 311.5 L578.7 327.3 L584.8 308.9 L591.3 310.6 L597.8 309.9 L604.3 312.1 L608.6 310.6 L614.7 312.8 L623.8 310.6 L636.8 309.9 L640.1 306.7 L643.3 301.9 L646.6 302.8 L649.8 299.7 L654.2 297.6 L657.7 299" stroke="#3a3a3a" stroke-width="2.05"/>
<path d="M493.2 307.88 L495.6 309.35 L498 310.81 L500.18 311.15 L502.35 311.49 L504.52 311.82 L506.7 312.16 L508.87 311.69 L511.03 311.22 L513.2 310.75 L515.35 313.22 L517.5 315.69 L519.67 314.95 L521.85 314.22 L524.03 313.49 L526.2 312.76 L528.1 313.35 L530 313.94 L531.9 314.53 L533.8 315.12 L535.7 314.66 L537.6 314.2 L539.5 313.74 L541.4 313.28 L543.56 313.26 L545.72 313.23 L547.88 313.21 L550.04 313.19 L552.2 313.17 L554.38 313.87 L556.56 314.58 L558.74 315.28 L560.92 315.98 L563.1 316.69 L565.25 316.65 L567.4 316.61 L569.55 316.57 L571.7 316.53 L573.35 316.85 L575 317.17 L576.85 325.15 L578.7 333.13 L580.73 327.08 L582.77 321.03 L584.8 314.99 L586.97 315.65 L589.13 316.31 L591.3 316.98 L593.47 316.84 L595.63 316.71 L597.8 316.57 L599.97 317.41 L602.13 318.24 L604.3 319.08 L606.45 318.43 L608.6 317.78 L610.63 318.62 L612.67 319.45 L614.7 320.28 L616.98 319.85 L619.25 319.41 L621.52 318.98 L623.8 318.55 L625.85 318.54 L627.9 318.54 L629.95 318.54 L632 318.54 L632.9 318.53 L634.2 318.53 L636.8 318.5 L639 316.16 L640.1 314.73 L641.6 311.27 L643.3 307.59 L644.4 306.35 L646.6 305.06 L647.7 303.42 L649.8 300.87 L650.9 299.83 L654.2 297.6 L657.7 299" stroke="#ff00ff"/>
<path d="M493.2 310.13 L495.6 311.64 L498 313.16 L500.18 313.54 L502.35 313.93 L504.52 314.31 L506.7 314.7 L508.87 314.28 L511.03 313.86 L513.2 313.44 L515.35 315.96 L517.5 318.48 L519.67 317.8 L521.85 317.12 L524.03 316.45 L526.2 315.77 L528.1 316.41 L530 317.04 L531.9 317.68 L533.8 318.32 L535.7 317.91 L537.6 317.5 L539.5 317.09 L541.4 316.69 L543.56 316.72 L545.72 316.76 L547.88 316.8 L550.04 316.84 L552.2 316.88 L554.38 317.65 L556.56 318.42 L558.74 319.19 L560.92 319.96 L563.1 320.73 L565.25 320.75 L567.4 320.78 L569.55 320.81 L571.7 320.84 L573.35 321.21 L575 321.58 L576.85 329.62 L578.7 337.66 L580.73 331.68 L582.77 325.7 L584.8 319.73 L586.97 320.46 L589.13 321.2 L591.3 321.94 L593.47 321.88 L595.63 321.82 L597.8 321.77 L599.97 322.68 L602.13 323.59 L604.3 324.51 L606.45 323.94 L608.6 323.38 L610.63 324.29 L612.67 325.2 L614.7 326.11 L616.98 325.76 L619.25 325.42 L621.52 325.07 L623.8 324.73 L625.85 324.81 L627.9 324.89 L629.95 324.97 L632 325.06 L632.9 325.09 L634.2 325.13 L636.8 325.16 L639 322.5 L640.1 320.59 L641.6 315.79 L643.3 311.07 L644.4 308.64 L646.6 306.19 L647.7 304.24 L649.8 301.42 L650.9 300.13 L654.2 297.6 L657.7 299" stroke="#0000ff"/>
<path d="M493.2 314.11 L495.6 315.72 L498 317.33 L500.18 317.8 L502.35 318.27 L504.52 318.74 L506.7 319.21 L508.87 318.88 L511.03 318.55 L513.2 318.23 L515.35 320.83 L517.5 323.44 L519.67 322.86 L521.85 322.27 L524.03 321.7 L526.2 321.12 L528.1 321.84 L530 322.56 L531.9 323.29 L533.8 324.02 L535.7 323.7 L537.6 323.38 L539.5 323.06 L541.4 322.75 L543.56 322.89 L545.72 323.04 L547.88 323.18 L550.04 323.33 L552.2 323.49 L554.38 324.37 L556.56 325.25 L558.74 326.13 L560.92 327.02 L563.1 327.91 L565.25 328.05 L567.4 328.2 L569.55 328.35 L571.7 328.5 L573.35 328.97 L575 329.43 L576.85 337.58 L578.7 345.72 L580.73 339.87 L582.77 334.01 L584.8 328.15 L586.97 329.02 L589.13 329.89 L591.3 330.76 L593.47 330.84 L595.63 330.92 L597.8 331 L599.97 332.05 L602.13 333.11 L604.3 334.17 L606.45 333.74 L608.6 333.32 L610.63 334.37 L612.67 335.41 L614.7 336.47 L616.98 336.28 L619.25 336.09 L621.52 335.91 L623.8 335.73 L625.85 335.95 L627.9 336.18 L629.95 336.41 L632 336.65 L632.9 336.74 L634.2 336.85 L636.8 336.92 L639 333.04 L640.1 329.69 L641.6 321.77 L643.3 315.23 L644.4 311.13 L646.6 307.29 L647.7 305.02 L649.8 301.94 L650.9 300.4 L654.2 297.6 L657.7 299" stroke="#00cc33"/>
<path d="M493.2 321.21 L495.6 322.97 L498 324.75 L500.18 325.36 L502.35 325.98 L504.52 326.61 L506.7 327.24 L508.87 327.07 L511.03 326.89 L513.2 326.73 L515.35 329.5 L517.5 332.27 L519.67 331.85 L521.85 331.44 L524.03 331.03 L526.2 330.63 L528.1 331.5 L530 332.38 L531.9 333.26 L533.8 334.15 L535.7 333.99 L537.6 333.83 L539.5 333.68 L541.4 333.53 L543.56 333.86 L545.72 334.19 L547.88 334.53 L550.04 334.88 L552.2 335.23 L554.38 336.31 L556.56 337.4 L558.74 338.48 L560.92 339.58 L563.1 340.68 L565.25 341.03 L567.4 341.39 L569.55 341.75 L571.7 342.12 L573.35 342.76 L575 343.39 L576.85 351.73 L578.7 360.06 L580.73 354.42 L582.77 348.78 L584.8 343.14 L586.97 344.24 L589.13 345.35 L591.3 346.46 L593.47 346.77 L595.63 347.1 L597.8 347.42 L599.97 348.72 L602.13 350.03 L604.3 351.34 L606.45 351.17 L608.6 351 L610.63 352.29 L612.67 353.59 L614.7 354.89 L616.98 354.98 L619.25 355.07 L621.52 355.17 L623.8 355.28 L625.85 355.77 L627.9 356.26 L629.95 356.76 L632 357.27 L632.9 357.44 L634.2 357.56 L636.8 357.04 L639 347.34 L640.1 339.91 L641.6 326.74 L643.3 318.26 L644.4 312.74 L646.6 307.95 L647.7 305.48 L649.8 302.24 L650.9 300.56 L654.2 297.6 L657.7 299" stroke="#55cc00"/>
<path d="M493.2 333.82 L495.6 335.87 L498 337.94 L500.18 338.82 L502.35 339.71 L504.52 340.61 L506.7 341.51 L508.87 341.62 L511.03 341.73 L513.2 341.85 L515.35 344.9 L517.5 347.97 L519.67 347.85 L521.85 347.74 L524.03 347.63 L526.2 347.54 L528.1 348.68 L530 349.84 L531.9 351 L533.8 352.16 L535.7 352.29 L537.6 352.41 L539.5 352.55 L541.4 352.69 L543.56 353.36 L545.72 354.03 L547.88 354.72 L550.04 355.41 L552.2 356.11 L554.38 357.55 L556.56 359 L558.74 360.45 L560.92 361.92 L563.1 363.39 L565.25 364.12 L567.4 364.85 L569.55 365.59 L571.7 366.35 L573.35 367.27 L575 368.21 L576.85 376.88 L578.7 385.56 L580.73 380.3 L582.77 375.04 L584.8 369.79 L586.97 371.3 L589.13 372.83 L591.3 374.36 L593.47 375.11 L595.63 375.86 L597.8 376.63 L599.97 378.37 L602.13 380.12 L604.3 381.88 L606.45 382.16 L608.6 382.44 L610.63 384.17 L612.67 385.9 L614.7 387.64 L616.98 388.23 L619.25 388.83 L621.52 389.44 L623.8 390.06 L625.85 391.01 L627.9 391.98 L629.95 392.95 L632 393.91 L632.9 393.72 L634.2 391.61 L636.8 382.57 L639 355.78 L640.1 344.32 L641.6 328.29 L643.3 319.11 L644.4 313.17 L646.6 308.12 L647.7 305.59 L649.8 302.31 L650.9 300.6 L654.2 297.6 L657.7 299" stroke="#ff8800"/>
<path d="M493.2 356.25 L495.6 358.81 L498 361.39 L500.18 362.74 L502.35 364.11 L504.52 365.5 L506.7 366.9 L508.87 367.5 L511.03 368.11 L513.2 368.74 L515.35 372.3 L517.5 375.88 L519.67 376.29 L521.85 376.72 L524.03 377.15 L526.2 377.61 L528.1 379.24 L530 380.88 L531.9 382.53 L533.8 384.2 L535.7 384.83 L537.6 385.46 L539.5 386.11 L541.4 386.78 L543.56 388.04 L545.72 389.32 L547.88 390.61 L550.04 391.92 L552.2 393.25 L554.38 395.32 L556.56 397.41 L558.74 399.51 L560.92 401.64 L563.1 403.77 L565.25 405.16 L567.4 406.57 L569.55 407.98 L571.7 409.42 L573.35 410.88 L575 412.35 L576.85 421.62 L578.7 430.91 L580.73 426.32 L582.77 421.74 L584.8 417.18 L586.97 419.43 L589.13 421.7 L591.3 423.99 L593.47 425.5 L595.63 427.02 L597.8 428.56 L599.97 431.08 L602.13 433.62 L604.3 436.18 L606.45 437.26 L608.6 438.36 L610.63 440.85 L612.67 443.36 L614.7 445.89 L616.98 447.36 L619.25 448.85 L621.52 450.37 L623.8 451.9 L625.85 453.68 L627.9 455.48 L629.95 457.3 L632 456.97 L632.9 434.37 L634.2 412.56 L636.8 389.03 L639 356.59 L640.1 344.67 L641.6 328.4 L643.3 319.17 L644.4 313.2 L646.6 308.13 L647.7 305.6 L649.8 302.32 L650.9 300.6 L654.2 297.6 L657.7 299" stroke="#ff0000"/>
<path d="M493.2 396.14 L495.6 399.6 L498 403.1 L500.18 405.29 L502.35 407.52 L504.52 409.76 L506.7 412.03 L508.87 413.52 L511.03 415.02 L513.2 416.55 L515.35 421.03 L517.5 425.53 L519.67 426.87 L521.85 428.25 L524.03 429.65 L526.2 431.08 L528.1 433.57 L530 436.08 L531.9 438.61 L533.8 441.17 L535.7 442.69 L537.6 444.24 L539.5 445.8 L541.4 447.39 L543.56 449.71 L545.72 452.06 L547.88 454.44 L550.04 456.85 L552.2 459.28 L554.38 462.49 L556.56 465.72 L558.74 468.98 L560.92 472.27 L563.1 475.59 L565.25 478.15 L567.4 480.75 L569.55 483.37 L571.7 486.02 L573.35 488.42 L575 490.83 L576.85 501.18 L578.7 511.55 L580.73 508.15 L582.77 504.79 L584.8 501.44 L586.97 505.01 L589.13 508.61 L591.3 512.24 L593.47 515.1 L595.63 517.99 L597.8 520.91 L599.97 524.83 L602.13 528.78 L604.3 532.75 L606.45 535.26 L608.6 537.79 L610.63 541.65 L612.67 545.54 L614.7 549.46 L616.98 552.51 L619.25 555.6 L621.52 558.72 L623.8 561.87 L625.85 565.13 L627.9 568.41 L629.95 571.73 L632 484.08 L632.9 436.8 L634.2 413 L636.8 389.1 L639 356.6 L640.1 344.67 L641.6 328.4 L643.3 319.17 L644.4 313.2 L646.6 308.13 L647.7 305.6 L649.8 302.32 L650.9 300.6 L654.2 297.6 L657.7 299 L666.1 299 L674.6 304.3 L681.8 300.7 L687.8 301.4 L692.7 299.9 L696.3 302.3 L704.7 299.9 L714.3 299.9 L725.2 301.9 L733.6 300.7 L744.5 303.8 L750.5 301.9 L757.7 303.1 L769.8 305.5 L774.6 303.8 L784.2 305.5 L793.9 305.5 L801.1 307.2 L805.9 304.8 L807 304.8" stroke="#989600"/>
</g>
<g fill="none" stroke="#111111" stroke-width="0.62" stroke-linecap="butt">
<rect x="492.85" y="291.5" width="314.1" height="192.8"/>
<path d="M505.24 484.3 v-2.3 M505.24 291.5 v2.3 M521.55 484.3 v-4 M521.55 291.5 v4 M537.86 484.3 v-2.3 M537.86 291.5 v2.3 M554.17 484.3 v-2.3 M554.17 291.5 v2.3 M570.48 484.3 v-2.3 M570.48 291.5 v2.3 M586.79 484.3 v-4 M586.79 291.5 v4 M603.09 484.3 v-2.3 M603.09 291.5 v2.3 M619.4 484.3 v-2.3 M619.4 291.5 v2.3 M635.71 484.3 v-2.3 M635.71 291.5 v2.3 M652.02 484.3 v-4 M652.02 291.5 v4 M668.33 484.3 v-2.3 M668.33 291.5 v2.3 M684.64 484.3 v-2.3 M684.64 291.5 v2.3 M700.95 484.3 v-2.3 M700.95 291.5 v2.3 M717.25 484.3 v-4 M717.25 291.5 v4 M733.56 484.3 v-2.3 M733.56 291.5 v2.3 M749.87 484.3 v-2.3 M749.87 291.5 v2.3 M766.18 484.3 v-2.3 M766.18 291.5 v2.3 M782.49 484.3 v-4 M782.49 291.5 v4 M798.8 484.3 v-2.3 M798.8 291.5 v2.3 M492.85 291.5 h6.3 M806.95 291.5 h-6.3 M492.85 313.96 h3.3 M806.95 313.96 h-3.3 M492.85 308.3 h3.3 M806.95 308.3 h-3.3 M492.85 304.29 h3.3 M806.95 304.29 h-3.3 M492.85 301.17 h3.3 M806.95 301.17 h-3.3 M492.85 298.63 h3.3 M806.95 298.63 h-3.3 M492.85 296.48 h3.3 M806.95 296.48 h-3.3 M492.85 294.61 h3.3 M806.95 294.61 h-3.3 M492.85 292.97 h3.3 M806.95 292.97 h-3.3 M492.85 323.63 h6.3 M806.95 323.63 h-6.3 M492.85 346.09 h3.3 M806.95 346.09 h-3.3 M492.85 340.44 h3.3 M806.95 340.44 h-3.3 M492.85 336.42 h3.3 M806.95 336.42 h-3.3 M492.85 333.31 h3.3 M806.95 333.31 h-3.3 M492.85 330.76 h3.3 M806.95 330.76 h-3.3 M492.85 328.61 h3.3 M806.95 328.61 h-3.3 M492.85 326.75 h3.3 M806.95 326.75 h-3.3 M492.85 325.1 h3.3 M806.95 325.1 h-3.3 M492.85 355.77 h6.3 M806.95 355.77 h-6.3 M492.85 378.23 h3.3 M806.95 378.23 h-3.3 M492.85 372.57 h3.3 M806.95 372.57 h-3.3 M492.85 368.55 h3.3 M806.95 368.55 h-3.3 M492.85 365.44 h3.3 M806.95 365.44 h-3.3 M492.85 362.9 h3.3 M806.95 362.9 h-3.3 M492.85 360.74 h3.3 M806.95 360.74 h-3.3 M492.85 358.88 h3.3 M806.95 358.88 h-3.3 M492.85 357.24 h3.3 M806.95 357.24 h-3.3 M492.85 387.9 h6.3 M806.95 387.9 h-6.3 M492.85 410.36 h3.3 M806.95 410.36 h-3.3 M492.85 404.7 h3.3 M806.95 404.7 h-3.3 M492.85 400.69 h3.3 M806.95 400.69 h-3.3 M492.85 397.57 h3.3 M806.95 397.57 h-3.3 M492.85 395.03 h3.3 M806.95 395.03 h-3.3 M492.85 392.88 h3.3 M806.95 392.88 h-3.3 M492.85 391.01 h3.3 M806.95 391.01 h-3.3 M492.85 389.37 h3.3 M806.95 389.37 h-3.3 M492.85 420.03 h6.3 M806.95 420.03 h-6.3 M492.85 442.49 h3.3 M806.95 442.49 h-3.3 M492.85 436.84 h3.3 M806.95 436.84 h-3.3 M492.85 432.82 h3.3 M806.95 432.82 h-3.3 M492.85 429.71 h3.3 M806.95 429.71 h-3.3 M492.85 427.16 h3.3 M806.95 427.16 h-3.3 M492.85 425.01 h3.3 M806.95 425.01 h-3.3 M492.85 423.15 h3.3 M806.95 423.15 h-3.3 M492.85 421.5 h3.3 M806.95 421.5 h-3.3 M492.85 452.17 h6.3 M806.95 452.17 h-6.3 M492.85 474.63 h3.3 M806.95 474.63 h-3.3 M492.85 468.97 h3.3 M806.95 468.97 h-3.3 M492.85 464.95 h3.3 M806.95 464.95 h-3.3 M492.85 461.84 h3.3 M806.95 461.84 h-3.3 M492.85 459.3 h3.3 M806.95 459.3 h-3.3 M492.85 457.14 h3.3 M806.95 457.14 h-3.3 M492.85 455.28 h3.3 M806.95 455.28 h-3.3 M492.85 453.64 h3.3 M806.95 453.64 h-3.3 M492.85 484.3 h6.3 M806.95 484.3 h-6.3"/>
</g>
<text x="649.9" y="284.3" font-size="18.5" text-anchor="middle">z = 0.5</text>
<text x="521.55" y="503.2" font-size="14.8" text-anchor="middle">1000</text>
<text x="586.79" y="503.2" font-size="14.8" text-anchor="middle">1200</text>
<text x="652.02" y="503.2" font-size="14.8" text-anchor="middle">1400</text>
<text x="717.25" y="503.2" font-size="14.8" text-anchor="middle">1600</text>
<text x="782.49" y="503.2" font-size="14.8" text-anchor="middle">1800</text>
<text x="649.9" y="518.6" font-size="14.7" text-anchor="middle" textLength="101.6" lengthAdjust="spacingAndGlyphs">Wavelength (Å)</text>
<g transform="translate(445.65 458.9) rotate(-90)" font-size="15">
<text x="0" y="0" textLength="88.2" lengthAdjust="spacingAndGlyphs">Flux (ergs cm</text>
<text x="88.2" y="-6.3" font-size="6.6">-2</text>
<text x="99.9" y="0">s</text>
<text x="108.4" y="-6.3" font-size="6.6">-1</text>
<text x="119.3" y="0" textLength="9.4" lengthAdjust="spacingAndGlyphs">Å</text>
<text x="129.0" y="-6.3" font-size="6.6">-1</text>
<text x="134.9" y="0">)</text>
</g>
<text x="473.25" y="300.3" font-size="14.6" text-anchor="end">10</text>
<text x="473.85" y="293.1" font-size="8.4" textLength="15.2" lengthAdjust="spacing">−16</text>
<text x="473.25" y="329.03" font-size="14.6" text-anchor="end">10</text>
<text x="473.85" y="321.83" font-size="8.4" textLength="15.2" lengthAdjust="spacing">−17</text>
<text x="473.25" y="361.17" font-size="14.6" text-anchor="end">10</text>
<text x="473.85" y="353.97" font-size="8.4" textLength="15.2" lengthAdjust="spacing">−18</text>
<text x="473.25" y="393.3" font-size="14.6" text-anchor="end">10</text>
<text x="473.85" y="386.1" font-size="8.4" textLength="15.2" lengthAdjust="spacing">−19</text>
<text x="473.25" y="425.43" font-size="14.6" text-anchor="end">10</text>
<text x="473.85" y="418.23" font-size="8.4" textLength="15.2" lengthAdjust="spacing">−20</text>
<text x="473.25" y="457.57" font-size="14.6" text-anchor="end">10</text>
<text x="473.85" y="450.37" font-size="8.4" textLength="15.2" lengthAdjust="spacing">−21</text>
<text x="473.25" y="484.7" font-size="14.6" text-anchor="end">10</text>
<text x="473.85" y="477.5" font-size="8.4" textLength="15.2" lengthAdjust="spacing">−22</text>
<text x="808.84" y="275.73" font-size="15" textLength="42.6" lengthAdjust="spacingAndGlyphs">abmag</text>
<text x="808.64" y="301.44" font-size="14.2" textLength="14.5" lengthAdjust="spacingAndGlyphs">22</text>
<text x="808.64" y="327.14" font-size="14.2" textLength="14.5" lengthAdjust="spacingAndGlyphs">24</text>
<text x="808.64" y="352.85" font-size="14.2" textLength="14.5" lengthAdjust="spacingAndGlyphs">26</text>
<text x="808.64" y="378.56" font-size="14.2" textLength="14.5" lengthAdjust="spacingAndGlyphs">28</text>
<text x="808.64" y="404.26" font-size="14.2" textLength="14.5" lengthAdjust="spacingAndGlyphs">30</text>
<text x="808.64" y="429.97" font-size="14.2" textLength="14.5" lengthAdjust="spacingAndGlyphs">32</text>
<text x="808.64" y="455.68" font-size="14.2" textLength="14.5" lengthAdjust="spacingAndGlyphs">34</text>
<text x="808.64" y="481.38" font-size="14.2" textLength="14.5" lengthAdjust="spacingAndGlyphs">36</text>
</g>
<g id="p4">
<clipPath id="c4"><rect x="77.6" y="558.5" width="314.1" height="192.8"/></clipPath>
<g clip-path="url(#c4)" fill="none" stroke="#111111" stroke-width="0.62" stroke-dasharray="9.35 9.3">
<path d="M208.47 558.5 L359.33 570.24 L391.7 571.65"/>
<path d="M77.6 574.03 L359.33 595.94 L391.7 597.36"/>
<path d="M77.6 599.73 L359.33 621.65 L391.7 623.06"/>
<path d="M77.6 625.44 L359.33 647.36 L391.7 648.77"/>
<path d="M77.6 651.15 L359.33 673.06 L391.7 674.48"/>
<path d="M77.6 676.85 L359.33 698.77 L391.7 700.18"/>
<path d="M77.6 702.56 L359.33 724.48 L391.7 725.89"/>
<path d="M77.6 728.27 L359.33 750.18 L391.7 751.6"/>
<path d="M242.91 751.3 L242.91 538.5"/>
</g>
<g clip-path="url(#c4)" fill="none" stroke-width="1.85" stroke-linejoin="miter" stroke-miterlimit="3">
<path d="M78.2 598.6 L80.8 607.3 L82.6 610.6 L85.2 593.2 L88.4 585.6 L91.7 586.3 L96 587.1 L100.4 584.5 L104.7 586.7 L109.5 581.3 L113.4 583.4 L119.9 585 L126.4 585.6 L128.1 584.5 L132.9 587.8 L139.4 585.6 L145.9 587.1 L152.4 585 L163.3 585 L169.8 586.7 L176.3 587.8 L182.8 586.3 L184.9 591 L187.3 610.1 L190.4 587.8 L191.9 585.6 L200.1 587.1 L208.8 586.3 L212.1 584.5 L218.6 587.8 L226.1 586.3 L239.2 585.5 L243.4 578.8 L248.4 577.6 L254.2 573.1 L258.7 574.1 L261.7 575.5" stroke="#3a3a3a" stroke-width="2.05"/>
<path d="M78.2 600.64 L79.5 605.02 L80.8 609.4 L82.6 612.75 L83.9 604.08 L85.2 595.41 L86.8 591.65 L88.4 587.9 L90.05 588.29 L91.7 588.68 L93.85 589.14 L96 589.6 L98.2 588.36 L100.4 587.12 L102.55 588.28 L104.7 589.44 L107.1 586.81 L109.5 584.18 L111.45 585.29 L113.4 586.4 L115.57 587 L117.73 587.61 L119.9 588.21 L122.07 588.48 L124.23 588.75 L126.4 589.02 L128.1 587.98 L130.5 589.71 L132.9 591.44 L135.07 590.79 L137.23 590.13 L139.4 589.47 L141.57 590.05 L143.73 590.63 L145.9 591.22 L148.07 590.6 L150.23 589.98 L152.4 589.36 L154.58 589.45 L156.76 589.54 L158.94 589.63 L161.12 589.71 L163.3 589.8 L165.47 590.46 L167.63 591.12 L169.8 591.78 L171.97 592.24 L174.13 592.7 L176.3 593.17 L178.47 592.76 L180.63 592.36 L182.8 591.96 L184.9 596.76 L187.3 615.97 L188.85 604.9 L190.4 593.82 L191.9 591.69 L193.95 592.17 L196 592.64 L198.05 593.12 L200.1 593.6 L202.28 593.51 L204.45 593.42 L206.62 593.33 L208.8 593.25 L210.45 592.44 L212.1 591.62 L214.27 592.84 L216.43 594.06 L218.6 595.28 L220.47 595.01 L222.35 594.74 L224.22 594.47 L226.1 594.2 L228.4 594.19 L230.7 594.18 L233 594.18 L235.3 594.18 L235.9 594.17 L237 594.16 L238.7 594.12 L239.2 594.05 L240.2 592.13 L242.4 586.46 L243.4 583.99 L244.6 581.79 L247.4 578.9 L248.4 578.21 L250 576.61 L254.2 573.1 L258.7 574.1 L261.7 575.5" stroke="#ff00ff"/>
<path d="M78.2 602.23 L79.5 606.63 L80.8 611.04 L82.6 614.42 L83.9 605.78 L85.2 597.14 L86.8 593.41 L88.4 589.68 L90.05 590.11 L91.7 590.54 L93.85 591.04 L96 591.54 L98.2 590.35 L100.4 589.16 L102.55 590.37 L104.7 591.58 L107.1 589 L109.5 586.43 L111.45 587.59 L113.4 588.74 L115.57 589.39 L117.73 590.05 L119.9 590.7 L122.07 591.03 L124.23 591.36 L126.4 591.68 L128.1 590.69 L130.5 592.48 L132.9 594.28 L135.07 593.68 L137.23 593.08 L139.4 592.49 L141.57 593.13 L143.73 593.77 L145.9 594.42 L148.07 593.86 L150.23 593.31 L152.4 592.76 L154.58 592.91 L156.76 593.07 L158.94 593.23 L161.12 593.38 L163.3 593.54 L165.47 594.27 L167.63 595 L169.8 595.73 L171.97 596.27 L174.13 596.8 L176.3 597.34 L178.47 597.02 L180.63 596.69 L182.8 596.37 L184.9 601.24 L187.3 620.54 L188.85 609.52 L190.4 598.51 L191.9 596.43 L193.95 596.99 L196 597.54 L198.05 598.1 L200.1 598.66 L202.28 598.65 L204.45 598.65 L206.62 598.65 L208.8 598.66 L210.45 597.91 L212.1 597.17 L214.27 598.47 L216.43 599.78 L218.6 601.1 L220.47 600.91 L222.35 600.72 L224.22 600.53 L226.1 600.35 L228.4 600.44 L230.7 600.54 L233 600.64 L235.3 600.74 L235.9 600.76 L237 600.79 L238.7 600.77 L239.2 600.64 L240.2 598.27 L242.4 590.27 L243.4 587.06 L244.6 583.51 L247.4 579.4 L248.4 578.49 L250 576.72 L254.2 573.1 L258.7 574.1 L261.7 575.5" stroke="#0000ff"/>
<path d="M78.2 605.05 L79.5 609.5 L80.8 613.95 L82.6 617.39 L83.9 608.8 L85.2 600.2 L86.8 596.53 L88.4 592.86 L90.05 593.34 L91.7 593.83 L93.85 594.41 L96 595 L98.2 593.89 L100.4 592.79 L102.55 594.08 L104.7 595.37 L107.1 592.9 L109.5 590.42 L111.45 591.66 L113.4 592.9 L115.57 593.64 L117.73 594.39 L119.9 595.14 L122.07 595.57 L124.23 595.99 L126.4 596.42 L128.1 595.5 L130.5 597.41 L132.9 599.32 L135.07 598.83 L137.23 598.34 L139.4 597.85 L141.57 598.6 L143.73 599.36 L145.9 600.11 L148.07 599.67 L150.23 599.24 L152.4 598.8 L154.58 599.07 L156.76 599.35 L158.94 599.63 L161.12 599.91 L163.3 600.19 L165.47 601.05 L167.63 601.91 L169.8 602.77 L171.97 603.43 L174.13 604.1 L176.3 604.77 L178.47 604.58 L180.63 604.39 L182.8 604.2 L184.9 609.21 L187.3 628.67 L188.85 617.75 L190.4 606.84 L191.9 604.87 L193.95 605.56 L196 606.25 L198.05 606.95 L200.1 607.65 L202.28 607.8 L204.45 607.95 L206.62 608.11 L208.8 608.27 L210.45 607.65 L212.1 607.03 L214.27 608.5 L216.43 609.97 L218.6 611.45 L220.47 611.4 L222.35 611.36 L224.22 611.32 L226.1 611.28 L228.4 611.56 L230.7 611.84 L233 612.13 L235.3 612.42 L235.9 612.48 L237 612.56 L238.7 612.47 L239.2 612.08 L240.2 608.23 L242.4 595 L243.4 590.6 L244.6 585.29 L247.4 579.86 L248.4 578.75 L250 576.83 L254.2 573.1 L258.7 574.1 L261.7 575.5" stroke="#00cc33"/>
<path d="M78.2 610.07 L79.5 614.6 L80.8 619.13 L82.6 622.68 L83.9 614.16 L85.2 605.65 L86.8 602.08 L88.4 598.51 L90.05 599.1 L91.7 599.69 L93.85 600.42 L96 601.15 L98.2 600.19 L100.4 599.23 L102.55 600.68 L104.7 602.13 L107.1 599.82 L109.5 597.52 L111.45 598.9 L113.4 600.29 L115.57 601.2 L117.73 602.12 L119.9 603.04 L122.07 603.63 L124.23 604.23 L126.4 604.84 L128.1 604.06 L130.5 606.17 L132.9 608.29 L135.07 607.98 L137.23 607.68 L139.4 607.39 L141.57 608.33 L143.73 609.28 L145.9 610.24 L148.07 610 L150.23 609.77 L152.4 609.54 L154.58 610.03 L156.76 610.52 L158.94 611.01 L161.12 611.51 L163.3 612.02 L165.47 613.1 L167.63 614.18 L169.8 615.27 L171.97 616.17 L174.13 617.07 L176.3 617.98 L178.47 618.02 L180.63 618.08 L182.8 618.14 L184.9 623.39 L187.3 643.12 L188.85 632.39 L190.4 621.65 L191.9 619.86 L193.95 620.8 L196 621.74 L198.05 622.69 L200.1 623.64 L202.28 624.07 L204.45 624.49 L206.62 624.93 L208.8 625.37 L210.45 624.96 L212.1 624.56 L214.27 626.31 L216.43 628.08 L218.6 629.85 L220.47 630.06 L222.35 630.27 L224.22 630.49 L226.1 630.72 L228.4 631.33 L230.7 631.94 L233 632.56 L235.3 633.18 L235.9 633.27 L237 633.24 L238.7 632.21 L239.2 630.35 L240.2 620.8 L242.4 598.58 L243.4 593.06 L244.6 586.39 L247.4 580.13 L248.4 578.89 L250 576.88 L254.2 573.1 L258.7 574.1 L261.7 575.5" stroke="#55cc00"/>
<path d="M78.2 619.01 L79.5 623.67 L80.8 628.34 L82.6 632.08 L83.9 623.71 L85.2 615.33 L86.8 611.94 L88.4 608.55 L90.05 609.33 L91.7 610.12 L93.85 611.09 L96 612.08 L98.2 611.38 L100.4 610.7 L102.55 612.41 L104.7 614.13 L107.1 612.14 L109.5 610.15 L111.45 611.79 L113.4 613.44 L115.57 614.64 L117.73 615.86 L119.9 617.08 L122.07 617.98 L124.23 618.89 L126.4 619.81 L128.1 619.29 L130.5 621.75 L132.9 624.23 L135.07 624.26 L137.23 624.3 L139.4 624.35 L141.57 625.64 L143.73 626.94 L145.9 628.25 L148.07 628.37 L150.23 628.5 L152.4 628.65 L154.58 629.51 L156.76 630.38 L158.94 631.26 L161.12 632.15 L163.3 633.05 L165.47 634.52 L167.63 636.01 L169.8 637.51 L171.97 638.81 L174.13 640.13 L176.3 641.46 L178.47 641.93 L180.63 642.42 L182.8 642.92 L184.9 648.59 L187.3 668.82 L188.85 658.41 L190.4 648 L191.9 646.53 L193.95 647.9 L196 649.29 L198.05 650.68 L200.1 652.09 L202.28 652.99 L204.45 653.91 L206.62 654.84 L208.8 655.78 L210.45 655.75 L212.1 655.73 L214.27 658 L216.43 660.28 L218.6 662.57 L220.47 663.24 L222.35 663.91 L224.22 664.6 L226.1 665.29 L228.4 666.48 L230.7 667.68 L233 668.89 L235.3 670.07 L235.9 669.22 L237 665.83 L238.7 655.36 L239.2 647.08 L240.2 627.31 L242.4 599.63 L243.4 593.75 L244.6 586.68 L247.4 580.2 L248.4 578.93 L250 576.9 L254.2 573.1 L258.7 574.1 L261.7 575.5" stroke="#ff8800"/>
<path d="M78.2 634.89 L79.5 639.8 L80.8 644.71 L82.6 648.8 L83.9 640.68 L85.2 632.56 L86.8 629.48 L88.4 626.42 L90.05 627.53 L91.7 628.66 L93.85 630.08 L96 631.52 L98.2 631.3 L100.4 631.09 L102.55 633.28 L104.7 635.48 L107.1 634.03 L109.5 632.6 L111.45 634.7 L113.4 636.81 L115.57 638.54 L117.73 640.29 L119.9 642.05 L122.07 643.5 L124.23 644.96 L126.4 646.44 L128.1 646.36 L130.5 649.46 L132.9 652.59 L135.07 653.21 L137.23 653.85 L139.4 654.5 L141.57 656.41 L143.73 658.33 L145.9 660.28 L148.07 661.04 L150.23 661.82 L152.4 662.62 L154.58 664.14 L156.76 665.69 L158.94 667.26 L161.12 668.84 L163.3 670.45 L165.47 672.63 L167.63 674.83 L169.8 677.05 L171.97 679.09 L174.13 681.14 L176.3 683.22 L178.47 684.45 L180.63 685.71 L182.8 686.98 L184.9 693.42 L187.3 714.52 L188.85 704.68 L190.4 694.86 L191.9 693.94 L193.95 696.1 L196 698.27 L198.05 700.46 L200.1 702.66 L202.28 704.43 L204.45 706.22 L206.62 708.02 L208.8 709.85 L210.45 710.51 L212.1 711.17 L214.27 714.35 L216.43 717.55 L218.6 720.77 L220.47 722.24 L222.35 723.74 L224.22 725.25 L226.1 726.77 L228.4 728.99 L230.7 731.23 L233 733.49 L235.3 731.76 L235.9 702.51 L237 681.84 L238.7 660.35 L239.2 649.55 L240.2 627.9 L242.4 599.7 L243.4 593.79 L244.6 586.7 L247.4 580.2 L248.4 578.93 L250 576.9 L254.2 573.1 L258.7 574.1 L261.7 575.5" stroke="#ff0000"/>
<path d="M78.2 663.13 L79.5 668.47 L80.8 673.82 L82.6 678.53 L83.9 670.86 L85.2 663.19 L86.8 660.68 L88.4 658.18 L90.05 659.89 L91.7 661.62 L93.85 663.84 L96 666.09 L98.2 666.71 L100.4 667.35 L102.55 670.39 L104.7 673.45 L107.1 672.97 L109.5 672.53 L111.45 675.44 L113.4 678.38 L115.57 681.04 L117.73 683.73 L119.9 686.45 L122.07 688.87 L124.23 691.31 L126.4 693.79 L128.1 694.5 L130.5 698.74 L132.9 703.02 L135.07 704.69 L137.23 706.39 L139.4 708.13 L141.57 711.13 L143.73 714.16 L145.9 717.23 L148.07 719.13 L150.23 721.06 L152.4 723.03 L154.58 725.74 L156.76 728.49 L158.94 731.28 L161.12 734.09 L163.3 736.95 L165.47 740.38 L167.63 743.85 L169.8 747.36 L171.97 750.7 L174.13 754.08 L176.3 757.49 L178.47 760.07 L180.63 762.68 L182.8 765.34 L184.9 773.12 L187.3 795.8 L188.85 786.98 L190.4 778.18 L191.9 778.27 L193.95 781.8 L196 785.37 L198.05 788.97 L200.1 792.6 L202.28 795.9 L204.45 799.23 L206.62 802.6 L208.8 806.01 L210.45 807.87 L212.1 809.76 L214.27 814.55 L216.43 819.38 L218.6 824.25 L220.47 827.17 L222.35 830.12 L224.22 833.09 L226.1 836.1 L228.4 840.15 L230.7 844.24 L233 848.38 L235.3 751.09 L235.9 703.8 L237 682.1 L238.7 660.4 L239.2 649.57 L240.2 627.9 L242.4 599.7 L243.4 593.79 L244.6 586.7 L247.4 580.2 L248.4 578.93 L250 576.9 L254.2 573.1 L258.7 574.1 L261.7 575.5 L265.2 574.1 L268.9 576.6 L273 579.7 L279.2 574.9 L283.7 576.2 L288.4 574.5 L293.5 578.2 L301.7 574.9 L307.8 575.1 L319.1 577.6 L325.2 576.2 L336.5 580.3 L342.7 577.6 L350.9 579 L358 581.1 L363.1 579.2 L371.3 581.1 L376.5 582.7 L380.6 580.7 L384.6 582.7 L390.8 580.3 L392 580.3" stroke="#989600"/>
</g>
<g fill="none" stroke="#111111" stroke-width="0.62" stroke-linecap="butt">
<rect x="77.6" y="558.5" width="314.1" height="192.8"/>
<path d="M87.44 751.3 v-2.3 M87.44 558.5 v2.3 M100.39 751.3 v-4 M100.39 558.5 v4 M113.33 751.3 v-2.3 M113.33 558.5 v2.3 M126.28 751.3 v-2.3 M126.28 558.5 v2.3 M139.23 751.3 v-2.3 M139.23 558.5 v2.3 M152.18 751.3 v-4 M152.18 558.5 v4 M165.12 751.3 v-2.3 M165.12 558.5 v2.3 M178.07 751.3 v-2.3 M178.07 558.5 v2.3 M191.02 751.3 v-2.3 M191.02 558.5 v2.3 M203.97 751.3 v-4 M203.97 558.5 v4 M216.91 751.3 v-2.3 M216.91 558.5 v2.3 M229.86 751.3 v-2.3 M229.86 558.5 v2.3 M242.81 751.3 v-2.3 M242.81 558.5 v2.3 M255.75 751.3 v-4 M255.75 558.5 v4 M268.7 751.3 v-2.3 M268.7 558.5 v2.3 M281.65 751.3 v-2.3 M281.65 558.5 v2.3 M294.6 751.3 v-2.3 M294.6 558.5 v2.3 M307.54 751.3 v-4 M307.54 558.5 v4 M320.49 751.3 v-2.3 M320.49 558.5 v2.3 M333.44 751.3 v-2.3 M333.44 558.5 v2.3 M346.38 751.3 v-2.3 M346.38 558.5 v2.3 M359.33 751.3 v-4 M359.33 558.5 v4 M372.28 751.3 v-2.3 M372.28 558.5 v2.3 M385.23 751.3 v-2.3 M385.23 558.5 v2.3 M77.6 558.5 h6.3 M391.7 558.5 h-6.3 M77.6 580.96 h3.3 M391.7 580.96 h-3.3 M77.6 575.3 h3.3 M391.7 575.3 h-3.3 M77.6 571.29 h3.3 M391.7 571.29 h-3.3 M77.6 568.17 h3.3 M391.7 568.17 h-3.3 M77.6 565.63 h3.3 M391.7 565.63 h-3.3 M77.6 563.48 h3.3 M391.7 563.48 h-3.3 M77.6 561.61 h3.3 M391.7 561.61 h-3.3 M77.6 559.97 h3.3 M391.7 559.97 h-3.3 M77.6 590.63 h6.3 M391.7 590.63 h-6.3 M77.6 613.09 h3.3 M391.7 613.09 h-3.3 M77.6 607.44 h3.3 M391.7 607.44 h-3.3 M77.6 603.42 h3.3 M391.7 603.42 h-3.3 M77.6 600.31 h3.3 M391.7 600.31 h-3.3 M77.6 597.76 h3.3 M391.7 597.76 h-3.3 M77.6 595.61 h3.3 M391.7 595.61 h-3.3 M77.6 593.75 h3.3 M391.7 593.75 h-3.3 M77.6 592.1 h3.3 M391.7 592.1 h-3.3 M77.6 622.77 h6.3 M391.7 622.77 h-6.3 M77.6 645.23 h3.3 M391.7 645.23 h-3.3 M77.6 639.57 h3.3 M391.7 639.57 h-3.3 M77.6 635.55 h3.3 M391.7 635.55 h-3.3 M77.6 632.44 h3.3 M391.7 632.44 h-3.3 M77.6 629.9 h3.3 M391.7 629.9 h-3.3 M77.6 627.74 h3.3 M391.7 627.74 h-3.3 M77.6 625.88 h3.3 M391.7 625.88 h-3.3 M77.6 624.24 h3.3 M391.7 624.24 h-3.3 M77.6 654.9 h6.3 M391.7 654.9 h-6.3 M77.6 677.36 h3.3 M391.7 677.36 h-3.3 M77.6 671.7 h3.3 M391.7 671.7 h-3.3 M77.6 667.69 h3.3 M391.7 667.69 h-3.3 M77.6 664.57 h3.3 M391.7 664.57 h-3.3 M77.6 662.03 h3.3 M391.7 662.03 h-3.3 M77.6 659.88 h3.3 M391.7 659.88 h-3.3 M77.6 658.01 h3.3 M391.7 658.01 h-3.3 M77.6 656.37 h3.3 M391.7 656.37 h-3.3 M77.6 687.03 h6.3 M391.7 687.03 h-6.3 M77.6 709.49 h3.3 M391.7 709.49 h-3.3 M77.6 703.84 h3.3 M391.7 703.84 h-3.3 M77.6 699.82 h3.3 M391.7 699.82 h-3.3 M77.6 696.71 h3.3 M391.7 696.71 h-3.3 M77.6 694.16 h3.3 M391.7 694.16 h-3.3 M77.6 692.01 h3.3 M391.7 692.01 h-3.3 M77.6 690.15 h3.3 M391.7 690.15 h-3.3 M77.6 688.5 h3.3 M391.7 688.5 h-3.3 M77.6 719.17 h6.3 M391.7 719.17 h-6.3 M77.6 741.63 h3.3 M391.7 741.63 h-3.3 M77.6 735.97 h3.3 M391.7 735.97 h-3.3 M77.6 731.95 h3.3 M391.7 731.95 h-3.3 M77.6 728.84 h3.3 M391.7 728.84 h-3.3 M77.6 726.3 h3.3 M391.7 726.3 h-3.3 M77.6 724.14 h3.3 M391.7 724.14 h-3.3 M77.6 722.28 h3.3 M391.7 722.28 h-3.3 M77.6 720.64 h3.3 M391.7 720.64 h-3.3 M77.6 751.3 h6.3 M391.7 751.3 h-6.3"/>
</g>
<text x="234.65" y="551.3" font-size="18.5" text-anchor="middle">z = 0.7</text>
<text x="100.39" y="770.2" font-size="14.8" text-anchor="middle">1000</text>
<text x="152.18" y="770.2" font-size="14.8" text-anchor="middle">1200</text>
<text x="203.97" y="770.2" font-size="14.8" text-anchor="middle">1400</text>
<text x="255.75" y="770.2" font-size="14.8" text-anchor="middle">1600</text>
<text x="307.54" y="770.2" font-size="14.8" text-anchor="middle">1800</text>
<text x="359.33" y="770.2" font-size="14.8" text-anchor="middle">2000</text>
<text x="234.65" y="785.6" font-size="14.7" text-anchor="middle" textLength="101.6" lengthAdjust="spacingAndGlyphs">Wavelength (Å)</text>
<g transform="translate(30.4 725.9) rotate(-90)" font-size="15">
<text x="0" y="0" textLength="88.2" lengthAdjust="spacingAndGlyphs">Flux (ergs cm</text>
<text x="88.2" y="-6.3" font-size="6.6">-2</text>
<text x="99.9" y="0">s</text>
<text x="108.4" y="-6.3" font-size="6.6">-1</text>
<text x="119.3" y="0" textLength="9.4" lengthAdjust="spacingAndGlyphs">Å</text>
<text x="129.0" y="-6.3" font-size="6.6">-1</text>
<text x="134.9" y="0">)</text>
</g>
<text x="58" y="567.3" font-size="14.6" text-anchor="end">10</text>
<text x="58.6" y="560.1" font-size="8.4" textLength="15.2" lengthAdjust="spacing">−16</text>
<text x="58" y="596.03" font-size="14.6" text-anchor="end">10</text>
<text x="58.6" y="588.83" font-size="8.4" textLength="15.2" lengthAdjust="spacing">−17</text>
<text x="58" y="628.17" font-size="14.6" text-anchor="end">10</text>
<text x="58.6" y="620.97" font-size="8.4" textLength="15.2" lengthAdjust="spacing">−18</text>
<text x="58" y="660.3" font-size="14.6" text-anchor="end">10</text>
<text x="58.6" y="653.1" font-size="8.4" textLength="15.2" lengthAdjust="spacing">−19</text>
<text x="58" y="692.43" font-size="14.6" text-anchor="end">10</text>
<text x="58.6" y="685.23" font-size="8.4" textLength="15.2" lengthAdjust="spacing">−20</text>
<text x="58" y="724.57" font-size="14.6" text-anchor="end">10</text>
<text x="58.6" y="717.37" font-size="8.4" textLength="15.2" lengthAdjust="spacing">−21</text>
<text x="58" y="751.7" font-size="14.6" text-anchor="end">10</text>
<text x="58.6" y="744.5" font-size="8.4" textLength="15.2" lengthAdjust="spacing">−22</text>
<text x="393.38" y="546.22" font-size="15" textLength="42.6" lengthAdjust="spacingAndGlyphs">abmag</text>
<text x="393.18" y="571.93" font-size="14.2" textLength="14.5" lengthAdjust="spacingAndGlyphs">22</text>
<text x="393.18" y="597.64" font-size="14.2" textLength="14.5" lengthAdjust="spacingAndGlyphs">24</text>
<text x="393.18" y="623.34" font-size="14.2" textLength="14.5" lengthAdjust="spacingAndGlyphs">26</text>
<text x="393.18" y="649.05" font-size="14.2" textLength="14.5" lengthAdjust="spacingAndGlyphs">28</text>
<text x="393.18" y="674.76" font-size="14.2" textLength="14.5" lengthAdjust="spacingAndGlyphs">30</text>
<text x="393.18" y="700.46" font-size="14.2" textLength="14.5" lengthAdjust="spacingAndGlyphs">32</text>
<text x="393.18" y="726.17" font-size="14.2" textLength="14.5" lengthAdjust="spacingAndGlyphs">34</text>
<text x="393.18" y="751.88" font-size="14.2" textLength="14.5" lengthAdjust="spacingAndGlyphs">36</text>
</g>
<g id="p5">
<clipPath id="c5"><rect x="492.85" y="558.5" width="314.1" height="192.8"/></clipPath>
<g clip-path="url(#c5)" fill="none" stroke="#111111" stroke-width="0.62" stroke-dasharray="9.35 9.3">
<path d="M592.81 558.5 L708.05 570.24 L806.95 575.89"/>
<path d="M492.85 574.03 L708.05 595.94 L806.95 601.6"/>
<path d="M492.85 599.73 L708.05 621.65 L806.95 627.31"/>
<path d="M492.85 625.44 L708.05 647.36 L806.95 653.01"/>
<path d="M492.85 651.15 L708.05 673.06 L806.95 678.72"/>
<path d="M492.85 676.85 L708.05 698.77 L806.95 704.43"/>
<path d="M492.85 702.56 L708.05 724.48 L806.95 730.13"/>
<path d="M492.85 728.27 L708.05 750.18 L806.95 755.84"/>
<path d="M673.24 751.3 L673.24 538.5"/>
</g>
<g clip-path="url(#c5)" fill="none" stroke-width="1.85" stroke-linejoin="miter" stroke-miterlimit="3">
<path d="M493 606.5 L495.9 601.4 L499.3 600.6 L502.7 603.1 L505.6 605.7 L509.4 600.2 L512.3 601.9 L514.5 598.1 L521.2 598.9 L523.7 602.7 L525.8 612.8 L527.5 620.8 L529 621.3 L530.9 610.3 L533 598.9 L536 597.7 L541.4 598.9 L545.7 596.9 L548.6 598.5 L553 594.5 L555.8 595.6 L559.5 598.1 L563.8 598.8 L568.9 598.1 L572.5 602 L575.4 600.2 L579.7 598.1 L584.8 600.2 L591.3 597.6 L601.4 597.3 L605.7 599.5 L611.5 601 L615.1 600.2 L618.7 598.8 L620.9 603.1 L622.3 611.8 L624.5 611.8 L626.3 598.8 L628.1 597.1 L633.2 598.5 L637.5 598.1 L641.9 599.5 L645.5 597.6 L651.3 600 L657.8 597.3 L665 597.1 L668.6 596.2 L673.2 590.2 L677.1 589.3 L681.2 584.7 L684.6 584 L690.4 586.3" stroke="#3a3a3a" stroke-width="2.05"/>
<path d="M493 608.41 L494.45 605.9 L495.9 603.39 L497.6 603.04 L499.3 602.68 L501 603.98 L502.7 605.28 L504.15 606.62 L505.6 607.97 L507.5 605.27 L509.4 602.52 L510.85 603.29 L512.3 604.06 L514.5 600.12 L516.73 600.25 L518.97 600.51 L521.2 600.83 L522.45 602.77 L523.7 604.7 L525.8 614.86 L527.5 622.9 L529 623.44 L530.9 612.5 L533 601.16 L534.5 600.6 L536 600.04 L537.8 600.5 L539.6 600.95 L541.4 601.4 L543.55 600.47 L545.7 599.54 L547.15 600.38 L548.6 601.23 L550.8 599.3 L553 597.37 L554.4 597.97 L555.8 598.57 L557.65 599.88 L559.5 601.2 L561.65 601.62 L563.8 602.05 L565.5 601.88 L567.2 601.71 L568.9 601.53 L570.7 603.55 L572.5 605.57 L573.95 604.73 L575.4 603.88 L577.55 602.92 L579.7 601.95 L581.4 602.72 L583.1 603.49 L584.8 604.26 L586.97 603.49 L589.13 602.71 L591.3 601.94 L593.32 601.97 L595.34 602 L597.36 602.03 L599.38 602.06 L601.4 602.09 L603.55 603.29 L605.7 604.49 L607.63 605.09 L609.57 605.68 L611.5 606.27 L613.3 605.96 L615.1 605.65 L616.9 605.04 L618.7 604.43 L620.9 608.85 L622.3 617.62 L624.5 617.74 L626.3 604.83 L628.1 603.23 L629.8 603.79 L631.5 604.35 L633.2 604.91 L635.35 604.83 L637.5 604.75 L639.7 605.58 L641.9 606.41 L643.7 605.56 L645.5 604.72 L647.43 605.64 L649.37 606.55 L651.3 607.47 L653.47 606.71 L655.63 605.94 L657.8 605.18 L660.2 605.27 L662.6 605.35 L665 605.44 L666.3 605.21 L667 605.07 L667.9 604.9 L668.6 604.76 L669.8 603.25 L670.9 601.37 L672.5 597.88 L673.2 596.45 L674.3 594.78 L677.1 591.47 L677.8 590.09 L681.2 584.93 L684.6 584 L690.4 586.3" stroke="#ff00ff"/>
<path d="M493 609.9 L494.45 607.41 L495.9 604.94 L497.6 604.62 L499.3 604.3 L501 605.64 L502.7 606.98 L504.15 608.35 L505.6 609.73 L507.5 607.08 L509.4 604.32 L510.85 605.03 L512.3 605.73 L514.5 601.7 L516.73 601.71 L518.97 601.97 L521.2 602.34 L522.45 604.3 L523.7 606.26 L525.8 616.46 L527.5 624.54 L529 625.11 L530.9 614.21 L533 602.91 L534.5 602.39 L536 601.86 L537.8 602.36 L539.6 602.85 L541.4 603.35 L543.55 602.47 L545.7 601.59 L547.15 602.47 L548.6 603.35 L550.8 601.48 L553 599.61 L554.4 600.24 L555.8 600.88 L557.65 602.24 L559.5 603.6 L561.65 604.09 L563.8 604.58 L565.5 604.45 L567.2 604.33 L568.9 604.21 L570.7 606.28 L572.5 608.35 L573.95 607.55 L575.4 606.75 L577.55 605.85 L579.7 604.95 L581.4 605.78 L583.1 606.6 L584.8 607.42 L586.97 606.72 L589.13 606.02 L591.3 605.32 L593.32 605.41 L595.34 605.51 L597.36 605.61 L599.38 605.71 L601.4 605.82 L603.55 607.1 L605.7 608.38 L607.63 609.04 L609.57 609.71 L611.5 610.38 L613.3 610.14 L615.1 609.9 L616.9 609.36 L618.7 608.82 L620.9 613.32 L622.3 622.15 L624.5 622.36 L626.3 609.53 L628.1 608 L629.8 608.63 L631.5 609.27 L633.2 609.9 L635.35 609.91 L637.5 609.93 L639.7 610.86 L641.9 611.78 L643.7 611.02 L645.5 610.26 L647.43 611.27 L649.37 612.28 L651.3 613.29 L653.47 612.62 L655.63 611.97 L657.8 611.31 L660.2 611.52 L662.6 611.73 L665 611.94 L666.3 611.77 L667 611.67 L667.9 611.53 L668.6 611.41 L669.8 609.92 L670.9 607.43 L672.5 602.36 L673.2 600.43 L674.3 597.58 L677.1 592.54 L677.8 590.84 L681.2 585.04 L684.6 584 L690.4 586.3" stroke="#0000ff"/>
<path d="M493 612.54 L494.45 610.11 L495.9 607.69 L497.6 607.44 L499.3 607.19 L501 608.59 L502.7 609.99 L504.15 611.43 L505.6 612.87 L507.5 610.3 L509.4 607.53 L510.85 608.13 L512.3 608.72 L514.5 604.5 L516.73 604.31 L518.97 604.57 L521.2 605.02 L522.45 607.02 L523.7 609.02 L525.8 619.3 L527.5 627.45 L529 628.08 L530.9 617.24 L533 606.03 L534.5 605.57 L536 605.11 L537.8 605.67 L539.6 606.24 L541.4 606.82 L543.55 606.03 L545.7 605.24 L547.15 606.18 L548.6 607.13 L550.8 605.36 L553 603.59 L554.4 604.28 L555.8 604.98 L557.65 606.43 L559.5 607.89 L561.65 608.48 L563.8 609.07 L565.5 609.03 L567.2 609 L568.9 608.96 L570.7 611.13 L572.5 613.29 L573.95 612.57 L575.4 611.85 L577.55 611.07 L579.7 610.29 L581.4 611.2 L583.1 612.12 L584.8 613.05 L586.97 612.47 L589.13 611.89 L591.3 611.32 L593.32 611.54 L595.34 611.76 L597.36 611.99 L599.38 612.22 L601.4 612.45 L603.55 613.87 L605.7 615.29 L607.63 616.08 L609.57 616.88 L611.5 617.67 L613.3 617.56 L615.1 617.44 L616.9 617.03 L618.7 616.62 L620.9 621.28 L622.3 630.21 L624.5 630.58 L626.3 617.88 L628.1 616.49 L629.8 617.25 L631.5 618.01 L633.2 618.77 L635.35 618.95 L637.5 619.14 L639.7 620.24 L641.9 621.34 L643.7 620.73 L645.5 620.12 L647.43 621.28 L649.37 622.45 L651.3 623.63 L653.47 623.15 L655.63 622.68 L657.8 622.21 L660.2 622.63 L662.6 623.06 L665 623.49 L666.3 623.43 L667 623.38 L667.9 623.28 L668.6 623.18 L669.8 621.65 L670.9 617.16 L672.5 608.29 L673.2 605.42 L674.3 600.74 L677.1 593.59 L677.8 591.57 L681.2 585.13 L684.6 584 L690.4 586.3" stroke="#00cc33"/>
<path d="M493 617.24 L494.45 614.91 L495.9 612.58 L497.6 612.44 L499.3 612.31 L501 613.83 L502.7 615.36 L504.15 616.9 L505.6 618.44 L507.5 616.01 L509.4 613.24 L510.85 613.64 L512.3 614.02 L514.5 609.47 L516.73 608.94 L518.97 609.19 L521.2 609.78 L522.45 611.86 L523.7 613.95 L525.8 624.36 L527.5 632.62 L529 633.35 L530.9 622.65 L533 611.58 L534.5 611.23 L536 610.87 L537.8 611.57 L539.6 612.27 L541.4 612.98 L543.55 612.35 L545.7 611.73 L547.15 612.79 L548.6 613.85 L550.8 612.25 L553 610.66 L554.4 611.47 L555.8 612.29 L557.65 613.89 L559.5 615.51 L561.65 616.28 L563.8 617.06 L565.5 617.18 L567.2 617.29 L568.9 617.42 L570.7 619.75 L572.5 622.08 L573.95 621.5 L575.4 620.91 L577.55 620.34 L579.7 619.77 L581.4 620.86 L583.1 621.95 L584.8 623.04 L586.97 622.69 L589.13 622.34 L591.3 622 L593.32 622.43 L595.34 622.88 L597.36 623.33 L599.38 623.78 L601.4 624.24 L603.55 625.91 L605.7 627.58 L607.63 628.6 L609.57 629.62 L611.5 630.65 L613.3 630.75 L615.1 630.86 L616.9 630.67 L618.7 630.49 L620.9 635.43 L622.3 644.54 L624.5 645.19 L626.3 632.73 L628.1 631.57 L629.8 632.56 L631.5 633.55 L633.2 634.55 L635.35 635.03 L637.5 635.51 L639.7 636.93 L641.9 638.34 L643.7 637.99 L645.5 637.64 L647.43 639.09 L649.37 640.55 L651.3 642.02 L653.47 641.87 L655.63 641.73 L657.8 641.6 L660.2 642.4 L662.6 643.21 L665 644.03 L666.3 644.18 L667 644.12 L667.9 643.9 L668.6 643.64 L669.8 641.48 L670.9 629.09 L672.5 613.23 L673.2 609.25 L674.3 602.88 L677.1 594.21 L677.8 591.99 L681.2 585.19 L684.6 584 L690.4 586.3" stroke="#55cc00"/>
<path d="M493 625.59 L494.45 623.43 L495.9 621.28 L497.6 621.35 L499.3 621.43 L501 623.16 L502.7 624.9 L504.15 626.63 L505.6 628.36 L507.5 626.18 L509.4 623.4 L510.85 623.44 L512.3 623.45 L514.5 618.33 L516.73 617.17 L518.97 617.41 L521.2 618.25 L522.45 620.47 L523.7 622.7 L525.8 633.36 L527.5 641.82 L529 642.73 L530.9 632.26 L533 621.45 L534.5 621.29 L536 621.12 L537.8 622.05 L539.6 622.99 L541.4 623.93 L543.55 623.59 L545.7 623.27 L547.15 624.53 L548.6 625.79 L550.8 624.51 L553 623.23 L554.4 624.25 L555.8 625.28 L557.65 627.16 L559.5 629.05 L561.65 630.16 L563.8 631.28 L565.5 631.66 L567.2 632.05 L568.9 632.45 L570.7 635.08 L572.5 637.71 L573.95 637.37 L575.4 637.03 L577.55 636.83 L579.7 636.64 L581.4 638.02 L583.1 639.42 L584.8 640.82 L586.97 640.86 L589.13 640.92 L591.3 640.99 L593.32 641.81 L595.34 642.64 L597.36 643.49 L599.38 644.34 L601.4 645.21 L603.55 647.31 L605.7 649.43 L607.63 650.85 L609.57 652.28 L611.5 653.73 L613.3 654.22 L615.1 654.72 L616.9 654.93 L618.7 655.15 L620.9 660.58 L622.3 670.01 L624.5 671.17 L626.3 659.14 L628.1 658.41 L629.8 659.8 L631.5 661.2 L633.2 662.61 L635.35 663.61 L637.5 664.63 L639.7 666.6 L641.9 668.58 L643.7 668.68 L645.5 668.8 L647.43 670.76 L649.37 672.73 L651.3 674.71 L653.47 675.15 L655.63 675.61 L657.8 676.08 L660.2 677.55 L662.6 679.04 L665 680.55 L666.3 680.99 L667 679.25 L667.9 675.79 L668.6 672.81 L669.8 664.81 L670.9 634.99 L672.5 614.79 L673.2 610.39 L674.3 603.46 L677.1 594.37 L677.8 592.09 L681.2 585.2 L684.6 584 L690.4 586.3" stroke="#ff8800"/>
<path d="M493 640.45 L494.45 638.6 L495.9 636.75 L497.6 637.19 L499.3 637.64 L501 639.75 L502.7 641.87 L504.15 643.93 L505.6 645.99 L507.5 644.26 L509.4 641.45 L510.85 640.87 L512.3 640.23 L514.5 634.07 L516.73 631.8 L518.97 632.02 L521.2 633.31 L522.45 635.78 L523.7 638.27 L525.8 649.36 L527.5 658.18 L529 659.41 L530.9 649.35 L533 639.01 L534.5 639.17 L536 639.35 L537.8 640.69 L539.6 642.05 L541.4 643.42 L543.55 643.59 L545.7 643.79 L547.15 645.4 L548.6 647.03 L550.8 646.3 L553 645.6 L554.4 646.98 L555.8 648.37 L557.65 650.75 L559.5 653.14 L561.65 654.84 L563.8 656.55 L565.5 657.42 L567.2 658.29 L568.9 659.18 L570.7 662.34 L572.5 665.5 L573.95 665.6 L575.4 665.7 L577.55 666.15 L579.7 666.63 L581.4 668.55 L583.1 670.49 L584.8 672.44 L586.97 673.19 L589.13 673.96 L591.3 674.75 L593.32 676.26 L595.34 677.79 L597.36 679.34 L599.38 680.91 L601.4 682.5 L603.55 685.38 L605.7 688.28 L607.63 690.43 L609.57 692.59 L611.5 694.77 L613.3 695.95 L615.1 697.15 L616.9 698.07 L618.7 699 L620.9 705.32 L622.3 715.32 L624.5 717.39 L626.3 706.09 L628.1 706.12 L629.8 708.23 L631.5 710.36 L633.2 712.5 L635.35 714.45 L637.5 716.42 L639.7 719.36 L641.9 722.34 L643.7 723.27 L645.5 724.22 L647.43 727.08 L649.37 729.96 L651.3 732.86 L653.47 734.35 L655.63 735.86 L657.8 737.39 L660.2 740.06 L662.6 742.76 L665 745.49 L666.3 739.1 L667 705.77 L667.9 690.28 L668.6 682.79 L669.8 669.85 L670.9 635.5 L672.5 614.9 L673.2 610.47 L674.3 603.5 L677.1 594.38 L677.8 592.1 L681.2 585.2 L684.6 584 L690.4 586.3" stroke="#ff0000"/>
<path d="M493 666.88 L494.45 665.56 L495.9 664.26 L497.6 665.35 L499.3 666.46 L501 669.24 L502.7 672.05 L504.15 674.69 L505.6 677.35 L507.5 676.41 L509.4 673.55 L510.85 671.86 L512.3 670.06 L514.5 662.06 L516.73 657.82 L518.97 658.01 L521.2 660.08 L522.45 663.01 L523.7 665.95 L525.8 677.82 L527.5 687.27 L529 689.07 L530.9 679.75 L533 670.22 L534.5 670.99 L536 671.76 L537.8 673.84 L539.6 675.94 L541.4 678.06 L543.55 679.15 L545.7 680.28 L547.15 682.53 L548.6 684.8 L550.8 685.06 L553 685.36 L554.4 687.39 L555.8 689.44 L557.65 692.7 L559.5 695.98 L561.65 698.72 L563.8 701.5 L565.5 703.22 L567.2 704.96 L568.9 706.72 L570.7 710.81 L572.5 714.93 L573.95 715.79 L575.4 716.67 L577.55 718.3 L579.7 719.96 L581.4 722.84 L583.1 725.74 L584.8 728.66 L586.97 730.67 L589.13 732.71 L591.3 734.8 L593.32 737.53 L595.34 740.29 L597.36 743.1 L599.38 745.93 L601.4 748.81 L603.55 753.08 L605.7 757.38 L607.63 760.8 L609.57 764.26 L611.5 767.75 L613.3 770.16 L615.1 772.61 L616.9 774.78 L618.7 776.99 L620.9 784.88 L622.3 795.89 L624.5 799.56 L626.3 789.6 L628.1 790.96 L629.8 794.36 L631.5 797.78 L633.2 801.23 L635.35 804.84 L637.5 808.5 L639.7 813.19 L641.9 817.94 L643.7 820.33 L645.5 822.76 L647.43 827.23 L649.37 831.73 L651.3 836.27 L653.47 839.61 L655.63 842.99 L657.8 846.43 L660.2 851.22 L662.6 856.07 L665 860.99 L666.3 751.2 L667 706.5 L667.9 690.5 L668.6 682.91 L669.8 669.9 L670.9 635.5 L672.5 614.9 L673.2 610.47 L674.3 603.5 L677.1 594.38 L677.8 592.1 L681.2 585.2 L684.6 584 L690.4 586.3 L693.8 585.6 L700 590.2 L706.4 587 L709.8 587.9 L713.7 587 L717.8 589.3 L727 586.3 L731.6 587 L740.7 588.6 L747.6 587.9 L756.8 590.9 L763.6 588.6 L777.4 592.1 L781.9 590.9 L792.2 593.2 L796.8 592.1 L801.4 593.9 L806.7 590.9" stroke="#989600"/>
</g>
<g fill="none" stroke="#111111" stroke-width="0.62" stroke-linecap="butt">
<rect x="492.85" y="558.5" width="314.1" height="192.8"/>
<path d="M510.26 751.3 v-4 M510.26 558.5 v4 M530.04 751.3 v-2.3 M530.04 558.5 v2.3 M549.82 751.3 v-2.3 M549.82 558.5 v2.3 M569.59 751.3 v-2.3 M569.59 558.5 v2.3 M589.37 751.3 v-2.3 M589.37 558.5 v2.3 M609.15 751.3 v-4 M609.15 558.5 v4 M628.93 751.3 v-2.3 M628.93 558.5 v2.3 M648.71 751.3 v-2.3 M648.71 558.5 v2.3 M668.49 751.3 v-2.3 M668.49 558.5 v2.3 M688.27 751.3 v-2.3 M688.27 558.5 v2.3 M708.05 751.3 v-4 M708.05 558.5 v4 M727.83 751.3 v-2.3 M727.83 558.5 v2.3 M747.61 751.3 v-2.3 M747.61 558.5 v2.3 M767.39 751.3 v-2.3 M767.39 558.5 v2.3 M787.17 751.3 v-2.3 M787.17 558.5 v2.3 M806.95 751.3 v-4 M806.95 558.5 v4 M492.85 558.5 h6.3 M806.95 558.5 h-6.3 M492.85 580.96 h3.3 M806.95 580.96 h-3.3 M492.85 575.3 h3.3 M806.95 575.3 h-3.3 M492.85 571.29 h3.3 M806.95 571.29 h-3.3 M492.85 568.17 h3.3 M806.95 568.17 h-3.3 M492.85 565.63 h3.3 M806.95 565.63 h-3.3 M492.85 563.48 h3.3 M806.95 563.48 h-3.3 M492.85 561.61 h3.3 M806.95 561.61 h-3.3 M492.85 559.97 h3.3 M806.95 559.97 h-3.3 M492.85 590.63 h6.3 M806.95 590.63 h-6.3 M492.85 613.09 h3.3 M806.95 613.09 h-3.3 M492.85 607.44 h3.3 M806.95 607.44 h-3.3 M492.85 603.42 h3.3 M806.95 603.42 h-3.3 M492.85 600.31 h3.3 M806.95 600.31 h-3.3 M492.85 597.76 h3.3 M806.95 597.76 h-3.3 M492.85 595.61 h3.3 M806.95 595.61 h-3.3 M492.85 593.75 h3.3 M806.95 593.75 h-3.3 M492.85 592.1 h3.3 M806.95 592.1 h-3.3 M492.85 622.77 h6.3 M806.95 622.77 h-6.3 M492.85 645.23 h3.3 M806.95 645.23 h-3.3 M492.85 639.57 h3.3 M806.95 639.57 h-3.3 M492.85 635.55 h3.3 M806.95 635.55 h-3.3 M492.85 632.44 h3.3 M806.95 632.44 h-3.3 M492.85 629.9 h3.3 M806.95 629.9 h-3.3 M492.85 627.74 h3.3 M806.95 627.74 h-3.3 M492.85 625.88 h3.3 M806.95 625.88 h-3.3 M492.85 624.24 h3.3 M806.95 624.24 h-3.3 M492.85 654.9 h6.3 M806.95 654.9 h-6.3 M492.85 677.36 h3.3 M806.95 677.36 h-3.3 M492.85 671.7 h3.3 M806.95 671.7 h-3.3 M492.85 667.69 h3.3 M806.95 667.69 h-3.3 M492.85 664.57 h3.3 M806.95 664.57 h-3.3 M492.85 662.03 h3.3 M806.95 662.03 h-3.3 M492.85 659.88 h3.3 M806.95 659.88 h-3.3 M492.85 658.01 h3.3 M806.95 658.01 h-3.3 M492.85 656.37 h3.3 M806.95 656.37 h-3.3 M492.85 687.03 h6.3 M806.95 687.03 h-6.3 M492.85 709.49 h3.3 M806.95 709.49 h-3.3 M492.85 703.84 h3.3 M806.95 703.84 h-3.3 M492.85 699.82 h3.3 M806.95 699.82 h-3.3 M492.85 696.71 h3.3 M806.95 696.71 h-3.3 M492.85 694.16 h3.3 M806.95 694.16 h-3.3 M492.85 692.01 h3.3 M806.95 692.01 h-3.3 M492.85 690.15 h3.3 M806.95 690.15 h-3.3 M492.85 688.5 h3.3 M806.95 688.5 h-3.3 M492.85 719.17 h6.3 M806.95 719.17 h-6.3 M492.85 741.63 h3.3 M806.95 741.63 h-3.3 M492.85 735.97 h3.3 M806.95 735.97 h-3.3 M492.85 731.95 h3.3 M806.95 731.95 h-3.3 M492.85 728.84 h3.3 M806.95 728.84 h-3.3 M492.85 726.3 h3.3 M806.95 726.3 h-3.3 M492.85 724.14 h3.3 M806.95 724.14 h-3.3 M492.85 722.28 h3.3 M806.95 722.28 h-3.3 M492.85 720.64 h3.3 M806.95 720.64 h-3.3 M492.85 751.3 h6.3 M806.95 751.3 h-6.3"/>
</g>
<text x="649.9" y="551.3" font-size="18.5" text-anchor="middle">z = 1.0</text>
<text x="510.26" y="770.2" font-size="14.8" text-anchor="middle">1000</text>
<text x="609.15" y="770.2" font-size="14.8" text-anchor="middle">1500</text>
<text x="708.05" y="770.2" font-size="14.8" text-anchor="middle">2000</text>
<text x="806.95" y="770.2" font-size="14.8" text-anchor="middle">2500</text>
<text x="649.9" y="785.6" font-size="14.7" text-anchor="middle" textLength="101.6" lengthAdjust="spacingAndGlyphs">Wavelength (Å)</text>
<g transform="translate(445.65 725.9) rotate(-90)" font-size="15">
<text x="0" y="0" textLength="88.2" lengthAdjust="spacingAndGlyphs">Flux (ergs cm</text>
<text x="88.2" y="-6.3" font-size="6.6">-2</text>
<text x="99.9" y="0">s</text>
<text x="108.4" y="-6.3" font-size="6.6">-1</text>
<text x="119.3" y="0" textLength="9.4" lengthAdjust="spacingAndGlyphs">Å</text>
<text x="129.0" y="-6.3" font-size="6.6">-1</text>
<text x="134.9" y="0">)</text>
</g>
<text x="473.25" y="567.3" font-size="14.6" text-anchor="end">10</text>
<text x="473.85" y="560.1" font-size="8.4" textLength="15.2" lengthAdjust="spacing">−16</text>
<text x="473.25" y="596.03" font-size="14.6" text-anchor="end">10</text>
<text x="473.85" y="588.83" font-size="8.4" textLength="15.2" lengthAdjust="spacing">−17</text>
<text x="473.25" y="628.17" font-size="14.6" text-anchor="end">10</text>
<text x="473.85" y="620.97" font-size="8.4" textLength="15.2" lengthAdjust="spacing">−18</text>
<text x="473.25" y="660.3" font-size="14.6" text-anchor="end">10</text>
<text x="473.85" y="653.1" font-size="8.4" textLength="15.2" lengthAdjust="spacing">−19</text>
<text x="473.25" y="692.43" font-size="14.6" text-anchor="end">10</text>
<text x="473.85" y="685.23" font-size="8.4" textLength="15.2" lengthAdjust="spacing">−20</text>
<text x="473.25" y="724.57" font-size="14.6" text-anchor="end">10</text>
<text x="473.85" y="717.37" font-size="8.4" textLength="15.2" lengthAdjust="spacing">−21</text>
<text x="473.25" y="751.7" font-size="14.6" text-anchor="end">10</text>
<text x="473.85" y="744.5" font-size="8.4" textLength="15.2" lengthAdjust="spacing">−22</text>
<text x="808.43" y="550.76" font-size="15" textLength="42.6" lengthAdjust="spacingAndGlyphs">abmag</text>
<text x="808.23" y="576.46" font-size="14.2" textLength="14.5" lengthAdjust="spacingAndGlyphs">22</text>
<text x="808.23" y="602.17" font-size="14.2" textLength="14.5" lengthAdjust="spacingAndGlyphs">24</text>
<text x="808.23" y="627.88" font-size="14.2" textLength="14.5" lengthAdjust="spacingAndGlyphs">26</text>
<text x="808.23" y="653.58" font-size="14.2" textLength="14.5" lengthAdjust="spacingAndGlyphs">28</text>
<text x="808.23" y="679.29" font-size="14.2" textLength="14.5" lengthAdjust="spacingAndGlyphs">30</text>
<text x="808.23" y="705" font-size="14.2" textLength="14.5" lengthAdjust="spacingAndGlyphs">32</text>
<text x="808.23" y="730.7" font-size="14.2" textLength="14.5" lengthAdjust="spacingAndGlyphs">34</text>
<text x="808.23" y="756.41" font-size="14.2" textLength="14.5" lengthAdjust="spacingAndGlyphs">36</text>
</g>
<g id="p6">
<clipPath id="c6"><rect x="77.6" y="825.5" width="314.1" height="192.8"/></clipPath>
<g clip-path="url(#c6)" fill="none" stroke="#111111" stroke-width="0.62" stroke-dasharray="9.35 9.3">
<path d="M168.84 825.5 L198.02 830.81 L308.69 842.13 L391.7 848.15"/>
<path d="M77.6 834.6 L198.02 856.52 L308.69 867.83 L391.7 873.86"/>
<path d="M77.6 860.31 L198.02 882.22 L308.69 893.54 L391.7 899.56"/>
<path d="M77.6 886.01 L198.02 907.93 L308.69 919.25 L391.7 925.27"/>
<path d="M77.6 911.72 L198.02 933.64 L308.69 944.95 L391.7 950.98"/>
<path d="M77.6 937.43 L198.02 959.34 L308.69 970.66 L391.7 976.68"/>
<path d="M77.6 963.13 L198.02 985.05 L308.69 996.37 L391.7 1002.39"/>
<path d="M77.6 988.84 L198.02 1010.76 L308.69 1022.07 L391.7 1028.1"/>
<path d="M279.47 1018.3 L279.47 805.5"/>
</g>
<g clip-path="url(#c6)" fill="none" stroke-width="1.85" stroke-linejoin="miter" stroke-miterlimit="3">
<path d="M77.6 884.5 L81.2 879.1 L85.8 873.3 L89.1 879.7 L92.1 875.7 L93.9 880.9 L95.7 893 L98.1 877.9 L104.1 876.9 L107.7 880.9 L110.7 877.3 L113.8 876.4 L116.4 874 L120.4 877.9 L122.8 877.7 L126.4 874.9 L129.4 878.1 L133 870.1 L136 873.7 L139.1 876.7 L142.1 870.7 L143.9 873.7 L146.3 868.9 L152.3 869.2 L154.7 874.9 L157.1 890.5 L158.9 891.5 L161.7 868.3 L165.6 867.7 L169.2 868.9 L171.6 866.4 L173 865.9 L175.4 868.9 L179.4 863.5 L182 865.9 L188.1 868 L191.7 866.7 L195.3 870.1 L200.4 866.3 L204.9 868.9 L211 865.9 L219.4 865.5 L223 868 L227.2 868.9 L231.4 867.5 L234.5 865.3 L236 876.1 L237.5 890 L238.9 876.1 L240.5 864.1 L244.7 863.5 L249.5 864.7 L253.1 865.9 L256.7 863.5 L260.4 865.7 L266 861.5 L276.9 860.1 L279.7 853.9 L283.3 852.4 L287 847.6 L290.1 848.9 L293.7 849.6" stroke="#3a3a3a" stroke-width="2.05"/>
<path d="M77.6 885.19 L79.4 882.52 L81.2 879.85 L83.5 876.99 L85.8 874.14 L87.45 877.37 L89.1 880.6 L90.6 878.63 L92.1 876.66 L93.9 881.9 L95.7 894.04 L98.1 878.99 L100.1 878.71 L102.1 878.42 L104.1 878.13 L105.9 880.18 L107.7 882.22 L109.2 880.46 L110.7 878.7 L112.25 878.29 L113.8 877.88 L115.1 876.72 L116.4 875.56 L118.4 877.56 L120.4 879.57 L122.8 879.44 L124.6 878.1 L126.4 876.75 L127.9 878.4 L129.4 880.05 L131.2 876.11 L133 872.17 L134.5 874.02 L136 875.87 L137.55 877.42 L139.1 878.98 L140.6 876.03 L142.1 873.01 L143.9 875.89 L146.3 870.92 L148.3 870.87 L150.3 870.99 L152.3 871.15 L154.7 876.92 L157.1 892.6 L158.9 893.66 L160.3 882.11 L161.7 870.55 L163.65 870.32 L165.6 870.09 L167.4 870.75 L169.2 871.42 L171.6 869.01 L173 868.56 L175.4 871.65 L177.4 869.03 L179.4 866.41 L180.7 867.66 L182 868.91 L184.03 869.7 L186.07 870.48 L188.1 871.27 L189.9 870.7 L191.7 870.13 L193.5 871.91 L195.3 873.69 L197 872.5 L198.7 871.31 L200.4 870.13 L202.65 871.54 L204.9 872.95 L206.93 872.05 L208.97 871.15 L211 870.25 L213.1 870.26 L215.2 870.28 L217.3 870.29 L219.4 870.3 L221.2 871.65 L223 873 L225.1 873.57 L227.2 874.15 L229.3 873.57 L231.4 873 L232.95 871.99 L234.5 870.98 L236 881.88 L237.5 895.87 L238.9 882.06 L240.5 870.16 L242.6 870 L244.7 869.83 L247.1 870.59 L249.5 871.35 L251.3 872.08 L253.1 872.8 L254.9 871.73 L256.7 870.66 L258.55 871.89 L260.4 873.12 L262.27 871.86 L264.13 870.6 L266 869.34 L268.12 869.23 L270.25 869.12 L272.38 869.01 L274.5 868.91 L274.7 868.88 L276.6 868.77 L276.9 868.72 L277.3 867.74 L277.8 865.59 L279.1 860.51 L279.7 858.78 L280.9 856.65 L283.3 853.22 L287 847.6 L290.1 848.9 L293.7 849.6" stroke="#ff00ff"/>
<path d="M77.6 885.73 L79.4 883.08 L81.2 880.44 L83.5 877.61 L85.8 874.79 L87.45 878.05 L89.1 881.3 L90.6 879.36 L92.1 877.41 L93.9 882.68 L95.7 894.85 L98.1 879.84 L100.1 879.59 L102.1 879.34 L104.1 879.09 L105.9 881.17 L107.7 883.25 L109.2 881.52 L110.7 879.79 L112.25 879.41 L113.8 879.04 L115.1 877.9 L116.4 876.77 L118.4 878.82 L120.4 880.87 L122.8 880.8 L124.6 879.49 L126.4 878.19 L127.9 879.88 L129.4 881.56 L131.2 877.67 L133 873.77 L134.5 875.67 L136 877.56 L137.55 879.15 L139.1 880.75 L140.6 877.85 L142.1 874.81 L143.9 877.59 L146.3 872.49 L148.3 872.32 L150.3 872.46 L152.3 872.66 L154.7 878.5 L157.1 894.24 L158.9 895.34 L160.3 883.82 L161.7 872.31 L163.65 872.13 L165.6 871.95 L167.4 872.66 L169.2 873.38 L171.6 871.03 L173 870.63 L175.4 873.79 L177.4 871.23 L179.4 868.67 L180.7 869.96 L182 871.26 L184.03 872.11 L186.07 872.96 L188.1 873.81 L189.9 873.3 L191.7 872.79 L193.5 874.64 L195.3 876.48 L197 875.35 L198.7 874.23 L200.4 873.11 L202.65 874.6 L204.9 876.09 L206.93 875.27 L208.97 874.46 L211 873.64 L213.1 873.74 L215.2 873.84 L217.3 873.94 L219.4 874.04 L221.2 875.47 L223 876.9 L225.1 877.56 L227.2 878.23 L229.3 877.75 L231.4 877.27 L232.95 876.34 L234.5 875.41 L236 886.37 L237.5 900.44 L238.9 886.7 L240.5 874.88 L242.6 874.82 L244.7 874.76 L247.1 875.65 L249.5 876.53 L251.3 877.35 L253.1 878.18 L254.9 877.2 L256.7 876.23 L258.55 877.56 L260.4 878.9 L262.27 877.74 L264.13 876.59 L266 875.44 L268.12 875.45 L270.25 875.47 L272.38 875.49 L274.5 875.52 L274.7 875.49 L276.6 875.47 L276.9 875.38 L277.3 874.26 L277.8 870.85 L279.1 863.66 L279.7 861.62 L280.9 858.35 L283.3 853.6 L287 847.6 L290.1 848.9 L293.7 849.6" stroke="#0000ff"/>
<path d="M77.6 886.68 L79.4 884.08 L81.2 881.48 L83.5 878.71 L85.8 875.95 L87.45 879.25 L89.1 882.55 L90.6 880.65 L92.1 878.75 L93.9 884.07 L95.7 896.29 L98.1 881.36 L100.1 881.17 L102.1 880.98 L104.1 880.8 L105.9 882.94 L107.7 885.08 L109.2 883.41 L110.7 881.73 L112.25 881.41 L113.8 881.09 L115.1 880 L116.4 878.92 L118.4 881.05 L120.4 883.18 L122.8 883.21 L124.6 881.98 L126.4 880.76 L127.9 882.51 L129.4 884.26 L131.2 880.45 L133 876.63 L134.5 878.6 L136 880.56 L137.55 882.23 L139.1 883.9 L140.6 881.07 L142.1 878.01 L143.9 880.62 L146.3 875.28 L148.3 874.9 L150.3 875.07 L152.3 875.36 L154.7 881.3 L157.1 897.14 L158.9 898.33 L160.3 886.88 L161.7 875.43 L163.65 875.34 L165.6 875.25 L167.4 876.05 L169.2 876.86 L171.6 874.64 L173 874.31 L175.4 877.6 L177.4 875.14 L179.4 872.69 L180.7 874.06 L182 875.43 L184.03 876.39 L186.07 877.36 L188.1 878.34 L189.9 877.93 L191.7 877.53 L193.5 879.49 L195.3 881.45 L197 880.43 L198.7 879.41 L200.4 878.4 L202.65 880.04 L204.9 881.69 L206.93 881.01 L208.97 880.34 L211 879.67 L213.1 879.92 L215.2 880.17 L217.3 880.43 L219.4 880.69 L221.2 882.26 L223 883.83 L225.1 884.66 L227.2 885.49 L229.3 885.18 L231.4 884.88 L232.95 884.07 L234.5 883.27 L236 894.37 L237.5 908.56 L238.9 894.94 L240.5 883.27 L242.6 883.39 L244.7 883.53 L247.1 884.63 L249.5 885.74 L251.3 886.73 L253.1 887.73 L254.9 886.93 L256.7 886.13 L258.55 887.65 L260.4 889.17 L262.27 888.21 L264.13 887.25 L266 886.29 L268.12 886.53 L270.25 886.77 L272.38 887.02 L274.5 887.28 L274.7 887.2 L276.6 887.3 L276.9 887.06 L277.3 885.42 L277.8 878.48 L279.1 867.34 L279.7 864.82 L280.9 860.11 L283.3 853.95 L287 847.6 L290.1 848.9 L293.7 849.6" stroke="#00cc33"/>
<path d="M77.6 888.38 L79.4 885.85 L81.2 883.33 L83.5 880.67 L85.8 878.01 L87.45 881.39 L89.1 884.77 L90.6 882.94 L92.1 881.12 L93.9 886.53 L95.7 898.85 L98.1 884.05 L100.1 883.97 L102.1 883.9 L104.1 883.84 L105.9 886.09 L107.7 888.34 L109.2 886.76 L110.7 885.18 L112.25 884.96 L113.8 884.74 L115.1 883.74 L116.4 882.75 L118.4 885.02 L120.4 887.29 L122.8 887.5 L124.6 886.4 L126.4 885.32 L127.9 887.18 L129.4 889.05 L131.2 885.38 L133 881.72 L134.5 883.81 L136 885.9 L137.55 887.7 L139.1 889.51 L140.6 886.81 L142.1 883.69 L143.9 886.01 L146.3 880.25 L148.3 879.49 L150.3 879.71 L152.3 880.16 L154.7 886.28 L157.1 902.31 L158.9 903.64 L160.3 892.31 L161.7 880.97 L163.65 881.05 L165.6 881.13 L167.4 882.09 L169.2 883.06 L171.6 881.05 L173 880.85 L175.4 884.36 L177.4 882.1 L179.4 879.85 L180.7 881.34 L182 882.84 L184.03 884.01 L186.07 885.19 L188.1 886.38 L189.9 886.17 L191.7 885.97 L193.5 888.12 L195.3 890.28 L197 889.45 L198.7 888.63 L200.4 887.82 L202.65 889.73 L204.9 891.65 L206.93 891.22 L208.97 890.8 L211 890.38 L213.1 890.9 L215.2 891.43 L217.3 891.97 L219.4 892.51 L221.2 894.32 L223 896.14 L225.1 897.27 L227.2 898.4 L229.3 898.4 L231.4 898.4 L232.95 897.83 L234.5 897.26 L236 908.58 L237.5 923.01 L238.9 909.61 L240.5 898.18 L242.6 898.64 L244.7 899.12 L247.1 900.61 L249.5 902.12 L251.3 903.42 L253.1 904.72 L254.9 904.23 L256.7 903.74 L258.55 905.59 L260.4 907.44 L262.27 906.81 L264.13 906.19 L266 905.58 L268.12 906.22 L270.25 906.87 L272.38 907.53 L274.5 908.19 L274.7 907.72 L276.6 907.66 L276.9 906.41 L277.3 902.19 L277.8 885.94 L279.1 869.93 L279.7 867 L280.9 861.2 L283.3 854.15 L287 847.6 L290.1 848.9 L293.7 849.6" stroke="#55cc00"/>
<path d="M77.6 891.4 L79.4 889.01 L81.2 886.63 L83.5 884.14 L85.8 881.68 L87.45 885.2 L89.1 888.72 L90.6 887.02 L92.1 885.33 L93.9 890.91 L95.7 903.4 L98.1 888.83 L100.1 888.96 L102.1 889.09 L104.1 889.24 L105.9 891.68 L107.7 894.13 L109.2 892.72 L110.7 891.31 L112.25 891.27 L113.8 891.24 L115.1 890.39 L116.4 889.56 L118.4 892.07 L120.4 894.61 L122.8 895.12 L124.6 894.27 L126.4 893.43 L127.9 895.5 L129.4 897.58 L131.2 894.17 L133 890.77 L134.5 893.07 L136 895.39 L137.55 897.43 L139.1 899.48 L140.6 897.01 L142.1 893.8 L143.9 895.6 L146.3 889.08 L148.3 887.66 L150.3 887.97 L152.3 888.68 L154.7 895.13 L157.1 911.5 L158.9 913.09 L160.3 901.96 L161.7 890.83 L163.65 891.2 L165.6 891.58 L167.4 892.82 L169.2 894.07 L171.6 892.46 L173 892.48 L175.4 896.4 L177.4 894.48 L179.4 892.57 L180.7 894.29 L182 896.02 L184.03 897.56 L186.07 899.12 L188.1 900.68 L189.9 900.82 L191.7 900.96 L193.5 903.47 L195.3 905.98 L197 905.5 L198.7 905.03 L200.4 904.57 L202.65 906.95 L204.9 909.35 L206.93 909.37 L208.97 909.4 L211 909.44 L213.1 910.44 L215.2 911.45 L217.3 912.48 L219.4 913.53 L221.2 915.78 L223 918.05 L225.1 919.7 L227.2 921.36 L229.3 921.9 L231.4 922.45 L232.95 922.29 L234.5 922.14 L236 933.87 L237.5 948.7 L238.9 935.69 L240.5 924.71 L242.6 925.76 L244.7 926.84 L247.1 929.03 L249.5 931.25 L251.3 933.08 L253.1 934.93 L254.9 934.99 L256.7 935.06 L258.55 937.49 L260.4 939.93 L262.27 939.9 L264.13 939.89 L266 939.89 L268.12 941.23 L270.25 942.6 L272.38 943.99 L274.5 945.31 L274.7 939.07 L276.6 934.48 L276.9 927.12 L277.3 914.8 L277.8 888.69 L279.1 870.65 L279.7 867.59 L280.9 861.48 L283.3 854.2 L287 847.6 L290.1 848.9 L293.7 849.6" stroke="#ff8800"/>
<path d="M77.6 896.77 L79.4 894.62 L81.2 892.48 L83.5 890.33 L85.8 888.2 L87.45 891.96 L89.1 895.74 L90.6 894.28 L92.1 892.83 L93.9 898.71 L95.7 911.5 L98.1 897.34 L100.1 897.82 L102.1 898.32 L104.1 898.84 L105.9 901.63 L107.7 904.43 L109.2 903.31 L110.7 902.21 L112.25 902.49 L113.8 902.78 L115.1 902.22 L116.4 901.66 L118.4 904.62 L120.4 907.61 L122.8 908.68 L124.6 908.25 L126.4 907.84 L127.9 910.29 L129.4 912.74 L131.2 909.79 L133 906.85 L134.5 909.55 L136 912.27 L137.55 914.73 L139.1 917.2 L140.6 915.16 L142.1 911.78 L143.9 912.64 L146.3 904.79 L148.3 902.17 L150.3 902.66 L152.3 903.85 L154.7 910.88 L157.1 927.85 L158.9 929.9 L160.3 919.13 L161.7 908.37 L163.65 909.26 L165.6 910.17 L167.4 911.91 L169.2 913.66 L171.6 912.74 L173 913.17 L175.4 917.8 L177.4 916.49 L179.4 915.19 L180.7 917.32 L182 919.47 L184.03 921.66 L186.07 923.88 L188.1 926.12 L189.9 926.86 L191.7 927.62 L193.5 930.76 L195.3 933.91 L197 934.04 L198.7 934.18 L200.4 934.35 L202.65 937.58 L204.9 940.84 L206.93 941.64 L208.97 942.47 L211 943.33 L213.1 945.18 L215.2 947.06 L217.3 948.97 L219.4 950.92 L221.2 953.95 L223 957 L225.1 959.58 L227.2 962.2 L229.3 963.69 L231.4 965.22 L232.95 965.79 L234.5 966.38 L236 978.83 L237.5 994.39 L238.9 982.06 L240.5 971.87 L242.6 973.98 L244.7 976.13 L247.1 979.56 L249.5 983.04 L251.3 985.83 L253.1 988.65 L254.9 989.69 L256.7 990.76 L258.55 994.22 L260.4 997.71 L262.27 998.74 L264.13 999.81 L266 1000.9 L268.12 1003.5 L270.25 1006.14 L272.38 1008.82 L274.5 1004.61 L274.7 952.7 L276.6 941.82 L276.9 930.89 L277.3 916.29 L277.8 888.9 L279.1 870.7 L279.7 867.63 L280.9 861.5 L283.3 854.2 L287 847.6 L290.1 848.9 L293.7 849.6" stroke="#ff0000"/>
<path d="M77.6 906.32 L79.4 904.6 L81.2 902.9 L83.5 901.32 L85.8 899.79 L87.45 904 L89.1 908.23 L90.6 907.19 L92.1 906.16 L93.9 912.56 L95.7 925.89 L98.1 912.47 L100.1 913.58 L102.1 914.73 L104.1 915.92 L105.9 919.31 L107.7 922.74 L109.2 922.16 L110.7 921.59 L112.25 922.44 L113.8 923.32 L115.1 923.25 L116.4 923.19 L118.4 926.94 L120.4 930.73 L122.8 932.78 L124.6 933.12 L126.4 933.48 L127.9 936.58 L129.4 939.7 L131.2 937.56 L133 935.45 L134.5 938.85 L136 942.28 L137.55 945.49 L139.1 948.72 L140.6 947.43 L142.1 943.76 L143.9 942.95 L146.3 932.72 L148.3 927.99 L150.3 928.77 L152.3 930.81 L154.7 938.89 L157.1 956.92 L158.9 959.79 L160.3 949.66 L161.7 939.55 L163.65 941.37 L165.6 943.22 L167.4 945.84 L169.2 948.5 L171.6 948.8 L173 949.96 L175.4 955.86 L177.4 955.62 L179.4 955.43 L180.7 958.28 L182 961.15 L184.03 964.51 L186.07 967.91 L188.1 971.36 L189.9 973.18 L191.7 975.04 L193.5 979.29 L195.3 983.58 L197 984.79 L198.7 986.03 L200.4 987.31 L202.65 992.04 L204.9 996.82 L206.93 999.03 L208.97 1001.28 L211 1003.59 L213.1 1006.96 L215.2 1010.38 L217.3 1013.86 L219.4 1017.4 L221.2 1021.81 L223 1026.27 L225.1 1030.51 L227.2 1034.81 L229.3 1038.02 L231.4 1041.28 L232.95 1043.15 L234.5 1045.04 L236 1058.78 L237.5 1075.64 L238.9 1064.53 L240.5 1055.75 L242.6 1059.74 L244.7 1063.78 L247.1 1069.43 L249.5 1075.15 L251.3 1079.64 L253.1 1084.18 L254.9 1086.97 L256.7 1089.81 L258.55 1095.1 L260.4 1100.44 L262.27 1103.38 L264.13 1106.36 L266 1109.39 L268.12 1114.23 L270.25 1119.14 L272.38 1124.11 L274.5 1017.7 L274.7 952.9 L276.6 941.9 L276.9 930.93 L277.3 916.3 L277.8 888.9 L279.1 870.7 L279.7 867.63 L280.9 861.5 L283.3 854.2 L287 847.6 L290.1 848.9 L293.7 849.6 L297.1 847.8 L301 853.2 L303.1 853.2 L307.5 848.9 L310.4 850.3 L314 849.6 L316.9 852.2 L323.4 848.4 L327.7 848.9 L337.1 851.3 L341.4 850.3 L350.1 854.2 L354.5 851.7 L361 853.9 L366.7 855.6 L370.4 854.2 L376.1 855.4 L379.8 857.5 L381.9 853.2 L387 855.4 L390.6 852.5 L392 852.5" stroke="#989600"/>
</g>
<g fill="none" stroke="#111111" stroke-width="0.62" stroke-linecap="butt">
<rect x="77.6" y="825.5" width="314.1" height="192.8"/>
<path d="M87.34 1018.3 v-4 M87.34 825.5 v4 M98.41 1018.3 v-2.3 M98.41 825.5 v2.3 M109.47 1018.3 v-2.3 M109.47 825.5 v2.3 M120.54 1018.3 v-2.3 M120.54 825.5 v2.3 M131.61 1018.3 v-2.3 M131.61 825.5 v2.3 M142.68 1018.3 v-4 M142.68 825.5 v4 M153.75 1018.3 v-2.3 M153.75 825.5 v2.3 M164.81 1018.3 v-2.3 M164.81 825.5 v2.3 M175.88 1018.3 v-2.3 M175.88 825.5 v2.3 M186.95 1018.3 v-2.3 M186.95 825.5 v2.3 M198.02 1018.3 v-4 M198.02 825.5 v4 M209.08 1018.3 v-2.3 M209.08 825.5 v2.3 M220.15 1018.3 v-2.3 M220.15 825.5 v2.3 M231.22 1018.3 v-2.3 M231.22 825.5 v2.3 M242.29 1018.3 v-2.3 M242.29 825.5 v2.3 M253.35 1018.3 v-4 M253.35 825.5 v4 M264.42 1018.3 v-2.3 M264.42 825.5 v2.3 M275.49 1018.3 v-2.3 M275.49 825.5 v2.3 M286.56 1018.3 v-2.3 M286.56 825.5 v2.3 M297.62 1018.3 v-2.3 M297.62 825.5 v2.3 M308.69 1018.3 v-4 M308.69 825.5 v4 M319.76 1018.3 v-2.3 M319.76 825.5 v2.3 M330.83 1018.3 v-2.3 M330.83 825.5 v2.3 M341.9 1018.3 v-2.3 M341.9 825.5 v2.3 M352.96 1018.3 v-2.3 M352.96 825.5 v2.3 M364.03 1018.3 v-4 M364.03 825.5 v4 M375.1 1018.3 v-2.3 M375.1 825.5 v2.3 M386.17 1018.3 v-2.3 M386.17 825.5 v2.3 M77.6 825.5 h6.3 M391.7 825.5 h-6.3 M77.6 847.96 h3.3 M391.7 847.96 h-3.3 M77.6 842.3 h3.3 M391.7 842.3 h-3.3 M77.6 838.29 h3.3 M391.7 838.29 h-3.3 M77.6 835.17 h3.3 M391.7 835.17 h-3.3 M77.6 832.63 h3.3 M391.7 832.63 h-3.3 M77.6 830.48 h3.3 M391.7 830.48 h-3.3 M77.6 828.61 h3.3 M391.7 828.61 h-3.3 M77.6 826.97 h3.3 M391.7 826.97 h-3.3 M77.6 857.63 h6.3 M391.7 857.63 h-6.3 M77.6 880.09 h3.3 M391.7 880.09 h-3.3 M77.6 874.44 h3.3 M391.7 874.44 h-3.3 M77.6 870.42 h3.3 M391.7 870.42 h-3.3 M77.6 867.31 h3.3 M391.7 867.31 h-3.3 M77.6 864.76 h3.3 M391.7 864.76 h-3.3 M77.6 862.61 h3.3 M391.7 862.61 h-3.3 M77.6 860.75 h3.3 M391.7 860.75 h-3.3 M77.6 859.1 h3.3 M391.7 859.1 h-3.3 M77.6 889.77 h6.3 M391.7 889.77 h-6.3 M77.6 912.23 h3.3 M391.7 912.23 h-3.3 M77.6 906.57 h3.3 M391.7 906.57 h-3.3 M77.6 902.55 h3.3 M391.7 902.55 h-3.3 M77.6 899.44 h3.3 M391.7 899.44 h-3.3 M77.6 896.9 h3.3 M391.7 896.9 h-3.3 M77.6 894.74 h3.3 M391.7 894.74 h-3.3 M77.6 892.88 h3.3 M391.7 892.88 h-3.3 M77.6 891.24 h3.3 M391.7 891.24 h-3.3 M77.6 921.9 h6.3 M391.7 921.9 h-6.3 M77.6 944.36 h3.3 M391.7 944.36 h-3.3 M77.6 938.7 h3.3 M391.7 938.7 h-3.3 M77.6 934.69 h3.3 M391.7 934.69 h-3.3 M77.6 931.57 h3.3 M391.7 931.57 h-3.3 M77.6 929.03 h3.3 M391.7 929.03 h-3.3 M77.6 926.88 h3.3 M391.7 926.88 h-3.3 M77.6 925.01 h3.3 M391.7 925.01 h-3.3 M77.6 923.37 h3.3 M391.7 923.37 h-3.3 M77.6 954.03 h6.3 M391.7 954.03 h-6.3 M77.6 976.49 h3.3 M391.7 976.49 h-3.3 M77.6 970.84 h3.3 M391.7 970.84 h-3.3 M77.6 966.82 h3.3 M391.7 966.82 h-3.3 M77.6 963.71 h3.3 M391.7 963.71 h-3.3 M77.6 961.16 h3.3 M391.7 961.16 h-3.3 M77.6 959.01 h3.3 M391.7 959.01 h-3.3 M77.6 957.15 h3.3 M391.7 957.15 h-3.3 M77.6 955.5 h3.3 M391.7 955.5 h-3.3 M77.6 986.17 h6.3 M391.7 986.17 h-6.3 M77.6 1008.63 h3.3 M391.7 1008.63 h-3.3 M77.6 1002.97 h3.3 M391.7 1002.97 h-3.3 M77.6 998.95 h3.3 M391.7 998.95 h-3.3 M77.6 995.84 h3.3 M391.7 995.84 h-3.3 M77.6 993.3 h3.3 M391.7 993.3 h-3.3 M77.6 991.14 h3.3 M391.7 991.14 h-3.3 M77.6 989.28 h3.3 M391.7 989.28 h-3.3 M77.6 987.64 h3.3 M391.7 987.64 h-3.3 M77.6 1018.3 h6.3 M391.7 1018.3 h-6.3"/>
</g>
<text x="234.65" y="818.3" font-size="18.5" text-anchor="middle">z = 2.0</text>
<text x="87.34" y="1037.2" font-size="14.8" text-anchor="middle">1000</text>
<text x="142.68" y="1037.2" font-size="14.8" text-anchor="middle">1500</text>
<text x="198.02" y="1037.2" font-size="14.8" text-anchor="middle">2000</text>
<text x="253.35" y="1037.2" font-size="14.8" text-anchor="middle">2500</text>
<text x="308.69" y="1037.2" font-size="14.8" text-anchor="middle">3000</text>
<text x="364.03" y="1037.2" font-size="14.8" text-anchor="middle">3500</text>
<text x="234.65" y="1052.6" font-size="14.7" text-anchor="middle" textLength="101.6" lengthAdjust="spacingAndGlyphs">Wavelength (Å)</text>
<g transform="translate(30.4 992.9) rotate(-90)" font-size="15">
<text x="0" y="0" textLength="88.2" lengthAdjust="spacingAndGlyphs">Flux (ergs cm</text>
<text x="88.2" y="-6.3" font-size="6.6">-2</text>
<text x="99.9" y="0">s</text>
<text x="108.4" y="-6.3" font-size="6.6">-1</text>
<text x="119.3" y="0" textLength="9.4" lengthAdjust="spacingAndGlyphs">Å</text>
<text x="129.0" y="-6.3" font-size="6.6">-1</text>
<text x="134.9" y="0">)</text>
</g>
<text x="58" y="834.3" font-size="14.6" text-anchor="end">10</text>
<text x="58.6" y="827.1" font-size="8.4" textLength="15.2" lengthAdjust="spacing">−17</text>
<text x="58" y="863.03" font-size="14.6" text-anchor="end">10</text>
<text x="58.6" y="855.83" font-size="8.4" textLength="15.2" lengthAdjust="spacing">−18</text>
<text x="58" y="895.17" font-size="14.6" text-anchor="end">10</text>
<text x="58.6" y="887.97" font-size="8.4" textLength="15.2" lengthAdjust="spacing">−19</text>
<text x="58" y="927.3" font-size="14.6" text-anchor="end">10</text>
<text x="58.6" y="920.1" font-size="8.4" textLength="15.2" lengthAdjust="spacing">−20</text>
<text x="58" y="959.43" font-size="14.6" text-anchor="end">10</text>
<text x="58.6" y="952.23" font-size="8.4" textLength="15.2" lengthAdjust="spacing">−21</text>
<text x="58" y="991.57" font-size="14.6" text-anchor="end">10</text>
<text x="58.6" y="984.37" font-size="8.4" textLength="15.2" lengthAdjust="spacing">−22</text>
<text x="58" y="1018.7" font-size="14.6" text-anchor="end">10</text>
<text x="58.6" y="1011.5" font-size="8.4" textLength="15.2" lengthAdjust="spacing">−23</text>
<text x="392.9" y="822.65" font-size="15" textLength="42.6" lengthAdjust="spacingAndGlyphs">abmag</text>
<text x="392.7" y="848.35" font-size="14.2" textLength="14.5" lengthAdjust="spacingAndGlyphs">24</text>
<text x="392.7" y="874.06" font-size="14.2" textLength="14.5" lengthAdjust="spacingAndGlyphs">26</text>
<text x="392.7" y="899.77" font-size="14.2" textLength="14.5" lengthAdjust="spacingAndGlyphs">28</text>
<text x="392.7" y="925.47" font-size="14.2" textLength="14.5" lengthAdjust="spacingAndGlyphs">30</text>
<text x="392.7" y="951.18" font-size="14.2" textLength="14.5" lengthAdjust="spacingAndGlyphs">32</text>
<text x="392.7" y="976.89" font-size="14.2" textLength="14.5" lengthAdjust="spacingAndGlyphs">34</text>
<text x="392.7" y="1002.59" font-size="14.2" textLength="14.5" lengthAdjust="spacingAndGlyphs">36</text>
<text x="392.7" y="1028.3" font-size="14.2" textLength="14.5" lengthAdjust="spacingAndGlyphs">38</text>
</g>
<g id="p7">
<clipPath id="c7"><rect x="492.85" y="825.5" width="314.1" height="192.8"/></clipPath>
<g clip-path="url(#c7)" fill="none" stroke="#111111" stroke-width="0.62" stroke-dasharray="9.35 9.3">
<path d="M558.19 825.5 L579.08 830.81 L658.34 842.13 L737.6 850.16 L806.95 855.61"/>
<path d="M492.85 834.6 L579.08 856.52 L658.34 867.83 L737.6 875.86 L806.95 881.31"/>
<path d="M492.85 860.31 L579.08 882.22 L658.34 893.54 L737.6 901.57 L806.95 907.02"/>
<path d="M492.85 886.01 L579.08 907.93 L658.34 919.25 L737.6 927.28 L806.95 932.73"/>
<path d="M492.85 911.72 L579.08 933.64 L658.34 944.95 L737.6 952.98 L806.95 958.43"/>
<path d="M492.85 937.43 L579.08 959.34 L658.34 970.66 L737.6 978.69 L806.95 984.14"/>
<path d="M492.85 963.13 L579.08 985.05 L658.34 996.37 L737.6 1004.4 L806.95 1009.85"/>
<path d="M492.85 988.84 L579.08 1010.76 L658.34 1022.07 L737.6 1030.1 L806.95 1035.55"/>
<path d="M702.47 1018.3 L702.47 805.5"/>
</g>
<g clip-path="url(#c7)" fill="none" stroke-width="1.85" stroke-linejoin="miter" stroke-miterlimit="3">
<path d="M492.6 935.4 L494.5 932.4 L496.7 913.7 L499.4 899.1 L500.5 900.2 L501.6 906.9 L502.7 904.7 L505 896.1 L506.1 898 L508 906.9 L510.6 915.2 L512.5 904.7 L513.6 901.3 L515.4 904.7 L518.4 898.7 L521.8 894.2 L523.7 897.2 L525.6 901.7 L527.8 896.1 L529.3 901 L530.8 916.3 L532.3 902.5 L534.2 899.8 L536.4 898.7 L540 899.6 L542.8 902.8 L545.8 898.3 L548.2 898 L550.7 895.9 L553.7 900.7 L556.7 901.6 L560.3 897.7 L563.3 901.6 L566.1 892.3 L568.7 897.1 L571.7 900.7 L574.7 892.3 L576.9 895.3 L579 891.7 L584.3 892.5 L586.1 901.2 L588.3 913.5 L590.6 916 L592 898.6 L593.9 891.6 L599.3 892.8 L602.3 888.9 L604.7 891.6 L608.9 886.7 L611.6 888.9 L618.6 890.7 L621.6 888.9 L624 893.1 L628.8 889.5 L633 892.3 L639 888.7 L646.3 887.1 L652.3 889.5 L655.9 888.9 L659.5 886.5 L661.3 891.3 L663.1 899.8 L664.9 890.1 L666.1 883.8 L668.2 883 L672.8 883 L677.3 881.9 L681.9 879.7 L685.5 880.7 L689.2 877 L693.8 874.3 L700.1 871.5 L702.9 864.2 L705.6 863.7 L708.9 857.7 L712.3 858.9" stroke="#3a3a3a" stroke-width="2.05"/>
<path d="M492.6 935.76 L494.5 932.78 L496.7 914.11 L498.05 906.83 L499.4 899.55 L500.5 900.66 L501.6 907.38 L502.7 905.2 L505 896.63 L506.1 898.55 L508 907.48 L509.3 911.65 L510.6 915.82 L512.5 905.35 L513.6 901.97 L515.4 905.41 L516.9 902.43 L518.4 899.46 L520.1 897.25 L521.8 895.03 L523.7 898.07 L525.6 902.61 L527.8 897.06 L529.3 901.99 L530.8 917.33 L532.3 903.56 L534.2 900.91 L536.4 899.86 L538.2 900.36 L540 900.85 L541.4 902.49 L542.8 904.13 L544.3 901.92 L545.8 899.71 L548.2 899.48 L549.45 898.47 L550.7 897.46 L552.2 899.9 L553.7 902.35 L555.2 902.85 L556.7 903.34 L558.5 901.45 L560.3 899.56 L561.8 901.56 L563.3 903.57 L564.7 898.97 L566.1 894.37 L567.4 896.81 L568.7 899.26 L570.2 901.12 L571.7 902.97 L573.2 898.83 L574.7 894.6 L576.9 897.44 L579 893.68 L580.77 893.81 L582.53 894.13 L584.3 894.46 L586.1 903.22 L588.3 915.59 L590.6 918.17 L592 900.82 L593.9 893.89 L595.7 894.36 L597.5 894.83 L599.3 895.3 L600.8 893.41 L602.3 891.52 L604.7 894.31 L606.8 891.95 L608.9 889.59 L610.25 890.75 L611.6 891.91 L613.93 892.61 L616.27 893.32 L618.6 894.02 L620.1 893.19 L621.6 892.37 L624 896.68 L626.4 895 L628.8 893.32 L630.9 894.83 L633 896.34 L635 895.25 L637 894.16 L639 893.07 L641.43 892.67 L643.87 892.28 L646.3 891.89 L648.3 892.81 L650.3 893.73 L652.3 894.65 L654.1 894.46 L655.9 894.28 L657.7 893.19 L659.5 892.11 L661.3 897.03 L663.1 905.65 L664.9 896.07 L666.1 889.85 L668.2 889.2 L670.5 889.36 L672.8 889.53 L675.05 889.14 L677.3 888.76 L679.6 887.83 L681.9 886.9 L683.7 887.54 L685.5 888.18 L687.35 886.48 L689.2 884.78 L691.5 883.62 L693.8 882.46 L695.6 881.81 L697.4 881.16 L698 880.94 L698.7 880.65 L700.1 880.06 L701.1 876.9 L702.3 871.86 L702.9 869.59 L703.8 867.37 L705.6 864.03 L708.9 857.7 L712.3 858.9" stroke="#ff00ff"/>
<path d="M492.6 936.04 L494.5 933.08 L496.7 914.43 L498.05 907.16 L499.4 899.9 L500.5 901.02 L501.6 907.75 L502.7 905.58 L505 897.04 L506.1 898.97 L508 907.93 L509.3 912.12 L510.6 916.3 L512.5 905.86 L513.6 902.5 L515.4 905.96 L516.9 903.01 L518.4 900.06 L520.1 897.87 L521.8 895.68 L523.7 898.75 L525.6 903.32 L527.8 897.8 L529.3 902.76 L530.8 918.13 L532.3 904.39 L534.2 901.77 L536.4 900.77 L538.2 901.3 L540 901.83 L541.4 903.5 L542.8 905.16 L544.3 902.99 L545.8 900.81 L548.2 900.64 L549.45 899.65 L550.7 898.67 L552.2 901.15 L553.7 903.63 L555.2 904.17 L556.7 904.7 L558.5 902.86 L560.3 901.01 L561.8 903.06 L563.3 905.1 L564.7 900.54 L566.1 895.97 L567.4 898.46 L568.7 900.94 L570.2 902.84 L571.7 904.74 L573.2 900.65 L574.7 896.39 L576.9 899.11 L579 895.22 L580.77 895.24 L582.53 895.61 L584.3 895.98 L586.1 904.79 L588.3 917.22 L590.6 919.86 L592 902.55 L593.9 895.68 L595.7 896.2 L597.5 896.72 L599.3 897.24 L600.8 895.4 L602.3 893.55 L604.7 896.43 L606.8 894.13 L608.9 891.84 L610.25 893.04 L611.6 894.25 L613.93 895.03 L616.27 895.82 L618.6 896.61 L620.1 895.84 L621.6 895.06 L624 899.47 L626.4 897.88 L628.8 896.3 L630.9 897.89 L633 899.49 L635 898.48 L637 897.47 L639 896.47 L641.43 896.18 L643.87 895.9 L646.3 895.62 L648.3 896.63 L650.3 897.64 L652.3 898.66 L654.1 898.56 L655.9 898.47 L657.7 897.47 L659.5 896.48 L661.3 901.49 L663.1 910.2 L664.9 900.72 L666.1 894.57 L668.2 894.03 L670.5 894.31 L672.8 894.61 L675.05 894.35 L677.3 894.09 L679.6 893.3 L681.9 892.51 L683.7 893.26 L685.5 894.01 L687.35 892.42 L689.2 890.84 L691.5 889.82 L693.8 888.81 L695.6 888.27 L697.4 887.74 L698 887.56 L698.7 887.25 L700.1 886.65 L701.1 882.76 L702.3 875.7 L702.9 872.82 L703.8 869.13 L705.6 864.17 L708.9 857.7 L712.3 858.9" stroke="#0000ff"/>
<path d="M492.6 936.54 L494.5 933.61 L496.7 915 L498.05 907.76 L499.4 900.52 L500.5 901.67 L501.6 908.42 L502.7 906.27 L505 897.78 L506.1 899.73 L508 908.73 L509.3 912.94 L510.6 917.16 L512.5 906.77 L513.6 903.43 L515.4 906.93 L516.9 904.02 L518.4 901.11 L520.1 898.97 L521.8 896.83 L523.7 899.95 L525.6 904.58 L527.8 899.13 L529.3 904.14 L530.8 919.55 L532.3 905.86 L534.2 903.3 L536.4 902.37 L538.2 902.97 L540 903.57 L541.4 905.29 L542.8 907.01 L544.3 904.89 L545.8 902.77 L548.2 902.69 L549.45 901.76 L550.7 900.82 L552.2 903.37 L553.7 905.92 L555.2 906.51 L556.7 907.12 L558.5 905.35 L560.3 903.59 L561.8 905.71 L563.3 907.82 L564.7 903.33 L566.1 898.83 L567.4 901.38 L568.7 903.93 L570.2 905.91 L571.7 907.89 L573.2 903.87 L574.7 899.58 L576.9 902.07 L579 897.95 L580.77 897.79 L582.53 898.23 L584.3 898.68 L586.1 907.58 L588.3 920.11 L590.6 922.87 L592 905.63 L593.9 898.85 L595.7 899.46 L597.5 900.08 L599.3 900.7 L600.8 898.93 L602.3 897.17 L604.7 900.18 L606.8 898.01 L608.9 895.84 L610.25 897.12 L611.6 898.41 L613.93 899.34 L616.27 900.27 L618.6 901.21 L620.1 900.54 L621.6 899.86 L624 904.43 L626.4 903.01 L628.8 901.59 L630.9 903.34 L633 905.08 L635 904.22 L637 903.37 L639 902.52 L641.43 902.42 L643.87 902.33 L646.3 902.24 L648.3 903.42 L650.3 904.6 L652.3 905.79 L654.1 905.85 L655.9 905.91 L657.7 905.07 L659.5 904.24 L661.3 909.42 L663.1 918.3 L664.9 908.99 L666.1 902.95 L668.2 902.61 L670.5 903.12 L672.8 903.64 L675.05 903.61 L677.3 903.58 L679.6 903.03 L681.9 902.48 L683.7 903.42 L685.5 904.37 L687.35 902.98 L689.2 901.6 L691.5 900.85 L693.8 900.1 L695.6 899.77 L697.4 899.45 L698 899.31 L698.7 898.9 L700.1 898.08 L701.1 891.88 L702.3 880.46 L702.9 876.61 L703.8 870.95 L705.6 864.3 L708.9 857.7 L712.3 858.9" stroke="#00cc33"/>
<path d="M492.6 937.42 L494.5 934.55 L496.7 916.01 L498.05 908.81 L499.4 901.62 L500.5 902.81 L501.6 909.59 L502.7 907.48 L505 899.08 L506.1 901.08 L508 910.15 L509.3 914.42 L510.6 918.69 L512.5 908.38 L513.6 905.09 L515.4 908.67 L516.9 905.83 L518.4 902.99 L520.1 900.93 L521.8 898.87 L523.7 902.09 L525.6 906.82 L527.8 901.49 L529.3 906.58 L530.8 922.07 L532.3 908.47 L534.2 906.03 L536.4 905.23 L538.2 905.94 L540 906.66 L541.4 908.46 L542.8 910.28 L544.3 908.26 L545.8 906.25 L548.2 906.34 L549.45 905.49 L550.7 904.66 L552.2 907.31 L553.7 909.97 L555.2 910.69 L556.7 911.41 L558.5 909.79 L560.3 908.18 L561.8 910.42 L563.3 912.66 L564.7 908.29 L566.1 903.92 L567.4 906.58 L568.7 909.25 L570.2 911.37 L571.7 913.49 L573.2 909.61 L574.7 905.25 L576.9 907.34 L579 902.82 L580.77 902.31 L582.53 902.9 L584.3 903.5 L586.1 912.54 L588.3 925.26 L590.6 928.22 L592 911.1 L593.9 904.49 L595.7 905.27 L597.5 906.05 L599.3 906.84 L600.8 905.22 L602.3 903.61 L604.7 906.86 L606.8 904.9 L608.9 902.95 L610.25 904.38 L611.6 905.81 L613.93 906.99 L616.27 908.18 L618.6 909.39 L620.1 908.89 L621.6 908.39 L624 913.25 L626.4 912.12 L628.8 911 L630.9 913.01 L633 915.03 L635 914.44 L637 913.85 L639 913.27 L641.43 913.51 L643.87 913.76 L646.3 914.03 L648.3 915.5 L650.3 916.98 L652.3 918.47 L654.1 918.81 L655.9 919.15 L657.7 918.6 L659.5 918.06 L661.3 923.52 L663.1 932.7 L664.9 923.69 L666.1 917.85 L668.2 917.87 L670.5 918.78 L672.8 919.7 L675.05 920.07 L677.3 920.46 L679.6 920.33 L681.9 920.22 L683.7 921.5 L685.5 922.79 L687.35 921.77 L689.2 920.75 L691.5 920.45 L693.8 920.17 L695.6 920.22 L697.4 920.27 L698 920.12 L698.7 918.7 L700.1 916.17 L701.1 902.2 L702.3 884.07 L702.9 879.28 L703.8 872.09 L705.6 864.38 L708.9 857.7 L712.3 858.9" stroke="#55cc00"/>
<path d="M492.6 938.99 L494.5 936.23 L496.7 917.81 L498.05 910.69 L499.4 903.58 L500.5 904.83 L501.6 911.69 L502.7 909.65 L505 901.4 L506.1 903.47 L508 912.68 L509.3 917.04 L510.6 921.41 L512.5 911.24 L513.6 908.03 L515.4 911.76 L516.9 909.04 L518.4 906.33 L520.1 904.41 L521.8 902.5 L523.7 905.89 L525.6 910.8 L527.8 905.68 L529.3 910.92 L530.8 926.56 L532.3 913.12 L534.2 910.87 L536.4 910.32 L538.2 911.23 L540 912.15 L541.4 914.12 L542.8 916.1 L544.3 914.26 L545.8 912.43 L548.2 912.83 L549.45 912.15 L550.7 911.47 L552.2 914.33 L553.7 917.19 L555.2 918.11 L556.7 919.05 L558.5 917.69 L560.3 916.34 L561.8 918.8 L563.3 921.27 L564.7 917.11 L566.1 912.96 L567.4 915.83 L568.7 918.71 L570.2 921.07 L571.7 923.44 L573.2 919.82 L574.7 915.32 L576.9 916.72 L579 911.47 L580.77 910.37 L582.53 911.21 L584.3 912.06 L586.1 921.36 L588.3 934.42 L590.6 937.73 L592 920.83 L593.9 914.52 L595.7 915.59 L597.5 916.68 L599.3 917.77 L600.8 916.41 L602.3 915.06 L604.7 918.73 L606.8 917.16 L608.9 915.6 L610.25 917.28 L611.6 918.97 L613.93 920.6 L616.27 922.26 L618.6 923.94 L620.1 923.75 L621.6 923.56 L624 928.93 L626.4 928.32 L628.8 927.74 L630.9 930.22 L633 932.73 L635 932.6 L637 932.49 L639 932.39 L641.43 933.23 L643.87 934.1 L646.3 934.99 L648.3 936.98 L650.3 938.99 L652.3 941.02 L654.1 941.85 L655.9 942.69 L657.7 942.64 L659.5 942.61 L661.3 948.6 L663.1 958.3 L664.9 949.82 L666.1 944.35 L668.2 945 L670.5 946.62 L672.8 948.27 L675.05 949.35 L677.3 950.47 L679.6 951.09 L681.9 951.75 L683.7 953.64 L685.5 955.55 L687.35 955.17 L689.2 954.8 L691.5 955.32 L693.8 955.87 L695.6 956.58 L697.4 957.12 L698 955.03 L698.7 943.14 L700.1 932.21 L701.1 906.73 L702.3 885.13 L702.9 880.03 L703.8 872.38 L705.6 864.4 L708.9 857.7 L712.3 858.9" stroke="#ff8800"/>
<path d="M492.6 941.79 L494.5 939.21 L496.7 921.01 L498.05 914.03 L499.4 907.06 L500.5 908.44 L501.6 915.42 L502.7 913.51 L505 905.52 L506.1 907.73 L508 917.17 L509.3 921.7 L510.6 926.24 L512.5 916.32 L513.6 913.27 L515.4 917.25 L516.9 914.75 L518.4 912.26 L520.1 910.6 L521.8 908.96 L523.7 912.66 L525.6 917.88 L527.8 913.14 L529.3 918.64 L530.8 934.55 L532.3 921.38 L534.2 919.49 L536.4 919.36 L538.2 920.63 L540 921.91 L541.4 924.17 L542.8 926.45 L544.3 924.93 L545.8 923.43 L548.2 924.37 L549.45 923.97 L550.7 923.59 L552.2 926.8 L553.7 930.03 L555.2 931.32 L556.7 932.63 L558.5 931.72 L560.3 930.84 L561.8 933.7 L563.3 936.58 L564.7 932.8 L566.1 929.04 L567.4 932.28 L568.7 935.53 L570.2 938.33 L571.7 941.14 L573.2 937.97 L574.7 933.24 L576.9 933.38 L579 926.86 L580.77 924.69 L582.53 925.97 L584.3 927.28 L586.1 937.05 L588.3 950.7 L590.6 954.64 L592 938.13 L593.9 932.37 L595.7 933.96 L597.5 935.57 L599.3 937.21 L600.8 936.31 L602.3 935.42 L604.7 939.85 L606.8 938.95 L608.9 938.08 L610.25 940.22 L611.6 942.37 L613.93 944.81 L616.27 947.29 L618.6 949.81 L620.1 950.17 L621.6 950.54 L624 956.82 L626.4 957.14 L628.8 957.5 L630.9 960.83 L633 964.19 L635 964.9 L637 965.63 L639 966.4 L641.43 968.31 L643.87 970.26 L646.3 972.26 L648.3 975.18 L650.3 978.14 L652.3 981.13 L654.1 982.82 L655.9 984.55 L657.7 985.4 L659.5 986.29 L661.3 993.2 L663.1 1003.84 L664.9 996.31 L666.1 991.47 L668.2 993.25 L670.5 996.13 L672.8 999.06 L675.05 1001.42 L677.3 1003.83 L679.6 1005.8 L681.9 1007.82 L683.7 1010.8 L685.5 1013.8 L687.35 1014.56 L689.2 1015.35 L691.5 1017.33 L693.8 1019.36 L695.6 1021.24 L697.4 1010.37 L698 979.5 L698.7 949.04 L700.1 934.48 L701.1 907.1 L702.3 885.2 L702.9 880.08 L703.8 872.4 L705.6 864.4 L708.9 857.7 L712.3 858.9" stroke="#ff0000"/>
<path d="M492.6 946.76 L494.5 944.51 L496.7 926.7 L498.05 919.98 L499.4 913.26 L500.5 916.1 L501.6 928.93 L502.7 920.36 L505 912.86 L506.1 915.3 L508 925.16 L509.3 929.99 L510.6 934.83 L512.5 925.37 L513.6 922.59 L515.4 927.02 L516.9 924.91 L518.4 922.81 L520.1 921.62 L521.8 920.45 L523.7 924.69 L525.6 930.47 L527.8 926.4 L529.3 932.37 L530.8 948.76 L532.3 936.07 L534.2 934.82 L536.4 935.44 L538.2 937.34 L540 939.27 L541.4 942.05 L542.8 944.85 L544.3 943.91 L545.8 943 L548.2 944.89 L549.45 945 L550.7 945.14 L552.2 948.98 L553.7 952.85 L555.2 954.8 L556.7 956.77 L558.5 956.69 L560.3 956.64 L561.8 960.2 L563.3 963.8 L564.7 960.71 L566.1 957.64 L567.4 961.53 L568.7 965.44 L570.2 969.01 L571.7 972.62 L573.2 970.24 L574.7 965.1 L576.9 963.03 L579 954.23 L580.77 950.16 L582.53 952.23 L584.3 954.34 L586.1 964.96 L588.3 979.65 L590.6 984.71 L592 968.9 L593.9 964.09 L595.7 966.61 L597.5 969.17 L599.3 971.77 L600.8 971.68 L602.3 971.62 L604.7 977.41 L606.8 977.71 L608.9 978.08 L610.25 981.01 L611.6 983.98 L613.93 987.85 L616.27 991.8 L618.6 995.82 L620.1 997.15 L621.6 998.52 L624 1006.41 L626.4 1008.37 L628.8 1010.42 L630.9 1015.25 L633 1020.15 L635 1022.33 L637 1024.57 L639 1026.87 L641.43 1030.68 L643.87 1034.56 L646.3 1038.54 L648.3 1043.11 L650.3 1047.74 L652.3 1052.44 L654.1 1055.69 L655.9 1058.99 L657.7 1061.45 L659.5 1063.95 L661.3 1072.5 L663.1 1084.81 L664.9 1078.96 L666.1 1075.26 L668.2 1079.06 L670.5 1084.18 L672.8 1089.39 L675.05 1094.02 L677.3 1098.72 L679.6 1103.09 L681.9 1107.53 L683.7 1112.44 L685.5 1117.4 L687.35 1120.18 L689.2 1123.03 L691.5 1127.6 L693.8 1132.26 L695.6 1136.23 L697.4 1017.5 L698 980.1 L698.7 949.1 L700.1 934.5 L701.1 907.1 L702.3 885.2 L702.9 880.08 L703.8 872.4 L705.6 864.4 L708.9 857.7 L712.3 858.9 L718.1 858.6 L721.7 862.5 L723.9 863 L727.8 858.9 L730.4 860.4 L734 859.6 L736.9 862.1 L743.4 857.5 L747.7 857.8 L755.7 861.1 L759.3 859.6 L767.9 864.4 L771.6 861.5 L783.1 866.1 L786 864.4 L792.5 866.1 L795.4 868.7 L796.9 860.1 L799.8 859.6 L803.4 861.8 L807 858.9" stroke="#989600"/>
</g>
<g fill="none" stroke="#111111" stroke-width="0.62" stroke-linecap="butt">
<rect x="492.85" y="825.5" width="314.1" height="192.8"/>
<path d="M499.82 1018.3 v-4 M499.82 825.5 v4 M507.75 1018.3 v-2.3 M507.75 825.5 v2.3 M515.68 1018.3 v-2.3 M515.68 825.5 v2.3 M523.6 1018.3 v-2.3 M523.6 825.5 v2.3 M531.53 1018.3 v-2.3 M531.53 825.5 v2.3 M539.45 1018.3 v-2.3 M539.45 825.5 v2.3 M547.38 1018.3 v-2.3 M547.38 825.5 v2.3 M555.31 1018.3 v-2.3 M555.31 825.5 v2.3 M563.23 1018.3 v-2.3 M563.23 825.5 v2.3 M571.16 1018.3 v-2.3 M571.16 825.5 v2.3 M579.08 1018.3 v-4 M579.08 825.5 v4 M587.01 1018.3 v-2.3 M587.01 825.5 v2.3 M594.93 1018.3 v-2.3 M594.93 825.5 v2.3 M602.86 1018.3 v-2.3 M602.86 825.5 v2.3 M610.79 1018.3 v-2.3 M610.79 825.5 v2.3 M618.71 1018.3 v-2.3 M618.71 825.5 v2.3 M626.64 1018.3 v-2.3 M626.64 825.5 v2.3 M634.56 1018.3 v-2.3 M634.56 825.5 v2.3 M642.49 1018.3 v-2.3 M642.49 825.5 v2.3 M650.42 1018.3 v-2.3 M650.42 825.5 v2.3 M658.34 1018.3 v-4 M658.34 825.5 v4 M666.27 1018.3 v-2.3 M666.27 825.5 v2.3 M674.19 1018.3 v-2.3 M674.19 825.5 v2.3 M682.12 1018.3 v-2.3 M682.12 825.5 v2.3 M690.04 1018.3 v-2.3 M690.04 825.5 v2.3 M697.97 1018.3 v-2.3 M697.97 825.5 v2.3 M705.9 1018.3 v-2.3 M705.9 825.5 v2.3 M713.82 1018.3 v-2.3 M713.82 825.5 v2.3 M721.75 1018.3 v-2.3 M721.75 825.5 v2.3 M729.67 1018.3 v-2.3 M729.67 825.5 v2.3 M737.6 1018.3 v-4 M737.6 825.5 v4 M745.52 1018.3 v-2.3 M745.52 825.5 v2.3 M753.45 1018.3 v-2.3 M753.45 825.5 v2.3 M761.38 1018.3 v-2.3 M761.38 825.5 v2.3 M769.3 1018.3 v-2.3 M769.3 825.5 v2.3 M777.23 1018.3 v-2.3 M777.23 825.5 v2.3 M785.15 1018.3 v-2.3 M785.15 825.5 v2.3 M793.08 1018.3 v-2.3 M793.08 825.5 v2.3 M801.01 1018.3 v-2.3 M801.01 825.5 v2.3 M492.85 825.5 h6.3 M806.95 825.5 h-6.3 M492.85 847.96 h3.3 M806.95 847.96 h-3.3 M492.85 842.3 h3.3 M806.95 842.3 h-3.3 M492.85 838.29 h3.3 M806.95 838.29 h-3.3 M492.85 835.17 h3.3 M806.95 835.17 h-3.3 M492.85 832.63 h3.3 M806.95 832.63 h-3.3 M492.85 830.48 h3.3 M806.95 830.48 h-3.3 M492.85 828.61 h3.3 M806.95 828.61 h-3.3 M492.85 826.97 h3.3 M806.95 826.97 h-3.3 M492.85 857.63 h6.3 M806.95 857.63 h-6.3 M492.85 880.09 h3.3 M806.95 880.09 h-3.3 M492.85 874.44 h3.3 M806.95 874.44 h-3.3 M492.85 870.42 h3.3 M806.95 870.42 h-3.3 M492.85 867.31 h3.3 M806.95 867.31 h-3.3 M492.85 864.76 h3.3 M806.95 864.76 h-3.3 M492.85 862.61 h3.3 M806.95 862.61 h-3.3 M492.85 860.75 h3.3 M806.95 860.75 h-3.3 M492.85 859.1 h3.3 M806.95 859.1 h-3.3 M492.85 889.77 h6.3 M806.95 889.77 h-6.3 M492.85 912.23 h3.3 M806.95 912.23 h-3.3 M492.85 906.57 h3.3 M806.95 906.57 h-3.3 M492.85 902.55 h3.3 M806.95 902.55 h-3.3 M492.85 899.44 h3.3 M806.95 899.44 h-3.3 M492.85 896.9 h3.3 M806.95 896.9 h-3.3 M492.85 894.74 h3.3 M806.95 894.74 h-3.3 M492.85 892.88 h3.3 M806.95 892.88 h-3.3 M492.85 891.24 h3.3 M806.95 891.24 h-3.3 M492.85 921.9 h6.3 M806.95 921.9 h-6.3 M492.85 944.36 h3.3 M806.95 944.36 h-3.3 M492.85 938.7 h3.3 M806.95 938.7 h-3.3 M492.85 934.69 h3.3 M806.95 934.69 h-3.3 M492.85 931.57 h3.3 M806.95 931.57 h-3.3 M492.85 929.03 h3.3 M806.95 929.03 h-3.3 M492.85 926.88 h3.3 M806.95 926.88 h-3.3 M492.85 925.01 h3.3 M806.95 925.01 h-3.3 M492.85 923.37 h3.3 M806.95 923.37 h-3.3 M492.85 954.03 h6.3 M806.95 954.03 h-6.3 M492.85 976.49 h3.3 M806.95 976.49 h-3.3 M492.85 970.84 h3.3 M806.95 970.84 h-3.3 M492.85 966.82 h3.3 M806.95 966.82 h-3.3 M492.85 963.71 h3.3 M806.95 963.71 h-3.3 M492.85 961.16 h3.3 M806.95 961.16 h-3.3 M492.85 959.01 h3.3 M806.95 959.01 h-3.3 M492.85 957.15 h3.3 M806.95 957.15 h-3.3 M492.85 955.5 h3.3 M806.95 955.5 h-3.3 M492.85 986.17 h6.3 M806.95 986.17 h-6.3 M492.85 1008.63 h3.3 M806.95 1008.63 h-3.3 M492.85 1002.97 h3.3 M806.95 1002.97 h-3.3 M492.85 998.95 h3.3 M806.95 998.95 h-3.3 M492.85 995.84 h3.3 M806.95 995.84 h-3.3 M492.85 993.3 h3.3 M806.95 993.3 h-3.3 M492.85 991.14 h3.3 M806.95 991.14 h-3.3 M492.85 989.28 h3.3 M806.95 989.28 h-3.3 M492.85 987.64 h3.3 M806.95 987.64 h-3.3 M492.85 1018.3 h6.3 M806.95 1018.3 h-6.3"/>
</g>
<text x="649.9" y="818.3" font-size="18.5" text-anchor="middle">z = 2.9</text>
<text x="499.82" y="1037.2" font-size="14.8" text-anchor="middle">1000</text>
<text x="579.08" y="1037.2" font-size="14.8" text-anchor="middle">2000</text>
<text x="658.34" y="1037.2" font-size="14.8" text-anchor="middle">3000</text>
<text x="737.6" y="1037.2" font-size="14.8" text-anchor="middle">4000</text>
<text x="649.9" y="1052.6" font-size="14.7" text-anchor="middle" textLength="101.6" lengthAdjust="spacingAndGlyphs">Wavelength (Å)</text>
<g transform="translate(445.65 992.9) rotate(-90)" font-size="15">
<text x="0" y="0" textLength="88.2" lengthAdjust="spacingAndGlyphs">Flux (ergs cm</text>
<text x="88.2" y="-6.3" font-size="6.6">-2</text>
<text x="99.9" y="0">s</text>
<text x="108.4" y="-6.3" font-size="6.6">-1</text>
<text x="119.3" y="0" textLength="9.4" lengthAdjust="spacingAndGlyphs">Å</text>
<text x="129.0" y="-6.3" font-size="6.6">-1</text>
<text x="134.9" y="0">)</text>
</g>
<text x="473.25" y="834.3" font-size="14.6" text-anchor="end">10</text>
<text x="473.85" y="827.1" font-size="8.4" textLength="15.2" lengthAdjust="spacing">−17</text>
<text x="473.25" y="863.03" font-size="14.6" text-anchor="end">10</text>
<text x="473.85" y="855.83" font-size="8.4" textLength="15.2" lengthAdjust="spacing">−18</text>
<text x="473.25" y="895.17" font-size="14.6" text-anchor="end">10</text>
<text x="473.85" y="887.97" font-size="8.4" textLength="15.2" lengthAdjust="spacing">−19</text>
<text x="473.25" y="927.3" font-size="14.6" text-anchor="end">10</text>
<text x="473.85" y="920.1" font-size="8.4" textLength="15.2" lengthAdjust="spacing">−20</text>
<text x="473.25" y="959.43" font-size="14.6" text-anchor="end">10</text>
<text x="473.85" y="952.23" font-size="8.4" textLength="15.2" lengthAdjust="spacing">−21</text>
<text x="473.25" y="991.57" font-size="14.6" text-anchor="end">10</text>
<text x="473.85" y="984.37" font-size="8.4" textLength="15.2" lengthAdjust="spacing">−22</text>
<text x="473.25" y="1018.7" font-size="14.6" text-anchor="end">10</text>
<text x="473.85" y="1011.5" font-size="8.4" textLength="15.2" lengthAdjust="spacing">−23</text>
<text x="808.05" y="829.97" font-size="15" textLength="42.6" lengthAdjust="spacingAndGlyphs">abmag</text>
<text x="807.85" y="855.68" font-size="14.2" textLength="14.5" lengthAdjust="spacingAndGlyphs">24</text>
<text x="807.85" y="881.38" font-size="14.2" textLength="14.5" lengthAdjust="spacingAndGlyphs">26</text>
<text x="807.85" y="907.09" font-size="14.2" textLength="14.5" lengthAdjust="spacingAndGlyphs">28</text>
<text x="807.85" y="932.8" font-size="14.2" textLength="14.5" lengthAdjust="spacingAndGlyphs">30</text>
<text x="807.85" y="958.5" font-size="14.2" textLength="14.5" lengthAdjust="spacingAndGlyphs">32</text>
<text x="807.85" y="984.21" font-size="14.2" textLength="14.5" lengthAdjust="spacingAndGlyphs">34</text>
<text x="807.85" y="1009.92" font-size="14.2" textLength="14.5" lengthAdjust="spacingAndGlyphs">36</text>
<text x="807.85" y="1035.62" font-size="14.2" textLength="14.5" lengthAdjust="spacingAndGlyphs">38</text>
</g>
<g fill="#ff00ff" font-size="14.5">
<text x="572" y="72.9" style="fill:#ff00ff">f</text>
<text x="576.8" y="66.6" font-size="8.5" style="fill:#ff00ff">e</text>
<text x="580.3" y="76.1" font-size="9.5" style="fill:#ff00ff" textLength="15.2" lengthAdjust="spacingAndGlyphs">900</text>
<text x="599.4" y="72.9" style="fill:#ff00ff" textLength="86" lengthAdjust="spacingAndGlyphs">= 0.566, log(N</text>
<text x="685.5" y="76.1" font-size="9.3" style="fill:#ff00ff" textLength="7.4" lengthAdjust="spacingAndGlyphs">HI</text>
<text x="693.3" y="72.9" style="fill:#ff00ff">)</text>
<text x="703.2" y="72.9" style="fill:#ff00ff">=</text>
<text x="719.6" y="72.9" style="fill:#ff00ff" textLength="34" lengthAdjust="spacingAndGlyphs">17.00</text>
</g>
<g fill="#0000ff" font-size="14.5">
<text x="572" y="85.4" style="fill:#0000ff">f</text>
<text x="576.8" y="79.1" font-size="8.5" style="fill:#0000ff">e</text>
<text x="580.3" y="88.6" font-size="9.5" style="fill:#0000ff" textLength="15.2" lengthAdjust="spacingAndGlyphs">900</text>
<text x="599.4" y="85.4" style="fill:#0000ff" textLength="86" lengthAdjust="spacingAndGlyphs">= 0.364, log(N</text>
<text x="685.5" y="88.6" font-size="9.3" style="fill:#0000ff" textLength="7.4" lengthAdjust="spacingAndGlyphs">HI</text>
<text x="693.3" y="85.4" style="fill:#0000ff">)</text>
<text x="703.2" y="85.4" style="fill:#0000ff">=</text>
<text x="719.6" y="85.4" style="fill:#0000ff" textLength="34" lengthAdjust="spacingAndGlyphs">17.25</text>
</g>
<g fill="#00cc33" font-size="14.5">
<text x="572" y="100.4" style="fill:#00cc33">f</text>
<text x="576.8" y="94.1" font-size="8.5" style="fill:#00cc33">e</text>
<text x="580.3" y="103.6" font-size="9.5" style="fill:#00cc33" textLength="15.2" lengthAdjust="spacingAndGlyphs">900</text>
<text x="599.4" y="100.4" style="fill:#00cc33" textLength="86" lengthAdjust="spacingAndGlyphs">= 0.166, log(N</text>
<text x="685.5" y="103.6" font-size="9.3" style="fill:#00cc33" textLength="7.4" lengthAdjust="spacingAndGlyphs">HI</text>
<text x="693.3" y="100.4" style="fill:#00cc33">)</text>
<text x="703.2" y="100.4" style="fill:#00cc33">=</text>
<text x="719.6" y="100.4" style="fill:#00cc33" textLength="34" lengthAdjust="spacingAndGlyphs">17.50</text>
</g>
<g fill="#55cc00" font-size="14.5">
<text x="572" y="115.5" style="fill:#55cc00">f</text>
<text x="576.8" y="109.2" font-size="8.5" style="fill:#55cc00">e</text>
<text x="580.3" y="118.7" font-size="9.5" style="fill:#55cc00" textLength="15.2" lengthAdjust="spacingAndGlyphs">900</text>
<text x="599.4" y="115.5" style="fill:#55cc00" textLength="86" lengthAdjust="spacingAndGlyphs">= 0.041, log(N</text>
<text x="685.5" y="118.7" font-size="9.3" style="fill:#55cc00" textLength="7.4" lengthAdjust="spacingAndGlyphs">HI</text>
<text x="693.3" y="115.5" style="fill:#55cc00">)</text>
<text x="703.2" y="115.5" style="fill:#55cc00">=</text>
<text x="719.6" y="115.5" style="fill:#55cc00" textLength="34" lengthAdjust="spacingAndGlyphs">17.75</text>
</g>
<g fill="#ff8800" font-size="14.5">
<text x="572" y="151.3" style="fill:#ff8800">f</text>
<text x="576.8" y="145" font-size="8.5" style="fill:#ff8800">e</text>
<text x="580.3" y="154.5" font-size="9.5" style="fill:#ff8800" textLength="15.2" lengthAdjust="spacingAndGlyphs">900</text>
<text x="599.4" y="151.3" style="fill:#ff8800" textLength="86" lengthAdjust="spacingAndGlyphs">= 0.003, log(N</text>
<text x="685.5" y="154.5" font-size="9.3" style="fill:#ff8800" textLength="7.4" lengthAdjust="spacingAndGlyphs">HI</text>
<text x="693.3" y="151.3" style="fill:#ff8800">)</text>
<text x="703.2" y="151.3" style="fill:#ff8800">=</text>
<text x="719.6" y="151.3" style="fill:#ff8800" textLength="34" lengthAdjust="spacingAndGlyphs">18.00</text>
</g>
<g fill="#ff0000" font-size="14.5">
<text x="572" y="207.3" style="fill:#ff0000">f</text>
<text x="576.8" y="201" font-size="8.5" style="fill:#ff0000">e</text>
<text x="580.3" y="210.5" font-size="9.5" style="fill:#ff0000" textLength="15.2" lengthAdjust="spacingAndGlyphs">900</text>
<text x="599.4" y="207.3" style="fill:#ff0000" textLength="86" lengthAdjust="spacingAndGlyphs">= 0.000, log(N</text>
<text x="685.5" y="210.5" font-size="9.3" style="fill:#ff0000" textLength="7.4" lengthAdjust="spacingAndGlyphs">HI</text>
<text x="693.3" y="207.3" style="fill:#ff0000">)</text>
<text x="703.2" y="207.3" style="fill:#ff0000">=</text>
<text x="719.6" y="207.3" style="fill:#ff0000" textLength="34" lengthAdjust="spacingAndGlyphs">18.25</text>
</g>
</svg></body></html>
